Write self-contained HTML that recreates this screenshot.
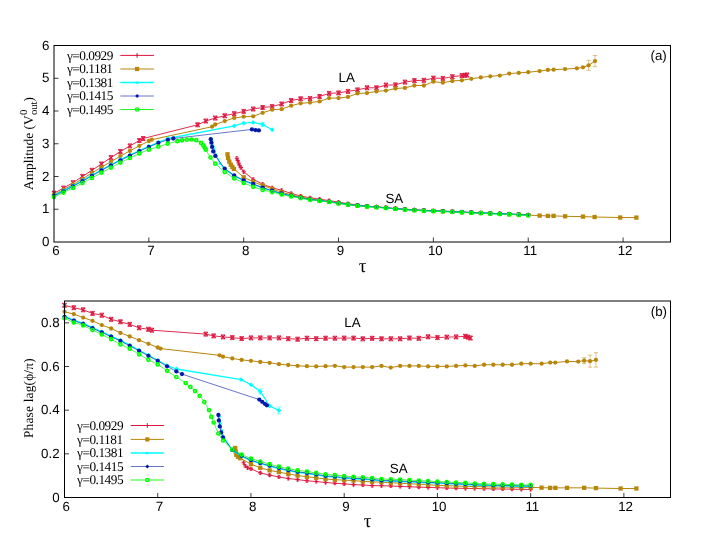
<!DOCTYPE html>
<html><head><meta charset="utf-8"><title>plot</title>
<style>html,body{margin:0;padding:0;background:#fff;}body{width:708px;height:545px;position:relative;overflow:hidden;font-family:"Liberation Sans",sans-serif;}</style></head>
<body>
<svg width="708" height="545" viewBox="0 0 708 545" style="position:absolute;left:0;top:0;text-rendering:geometricPrecision;will-change:transform">
<rect width="708" height="545" fill="#fff"/>
<g id="topdata">
<path d="M54.00 193.20L63.48 188.10L72.97 182.70L82.45 176.40L91.94 170.30L101.42 164.00L110.91 157.60L120.39 151.50L129.88 145.90L139.36 140.50L143.16 138.50L197.60 124.80L205.75 121.00L215.24 118.05L224.72 115.80L234.21 113.70L243.69 111.40L253.18 109.00L262.66 107.50L272.15 106.60L281.63 104.00L291.12 100.50L300.60 98.80L310.08 98.60L319.57 96.50L329.05 93.40L338.54 92.90L348.02 91.40L357.51 89.90L366.99 87.80L376.48 87.80L385.96 85.10L395.45 84.90L404.93 82.10L414.42 80.60L423.90 80.30L433.38 78.10L442.87 78.40L452.35 76.70L461.84 75.60L464.68 75.30L467.06 75.00" fill="none" stroke="#DC143C" stroke-width="0.9" stroke-opacity="1.0" stroke-linejoin="round"/>
<path d="M52.40 191.60L55.60 194.80M52.40 194.80L55.60 191.60" stroke="#DC143C" stroke-width="1.2" fill="none" stroke-linecap="square"/><path d="M52.00 191.20H56.00M52.00 195.20H56.00M54.00 191.20V195.20" stroke="#DC143C" stroke-width="0.8" fill="none"/>
<path d="M61.88 186.50L65.08 189.70M61.88 189.70L65.08 186.50" stroke="#DC143C" stroke-width="1.2" fill="none" stroke-linecap="square"/><path d="M61.48 186.10H65.48M61.48 190.10H65.48M63.48 186.10V190.10" stroke="#DC143C" stroke-width="0.8" fill="none"/>
<path d="M71.37 181.10L74.57 184.30M71.37 184.30L74.57 181.10" stroke="#DC143C" stroke-width="1.2" fill="none" stroke-linecap="square"/><path d="M70.97 180.70H74.97M70.97 184.70H74.97M72.97 180.70V184.70" stroke="#DC143C" stroke-width="0.8" fill="none"/>
<path d="M80.85 174.80L84.05 178.00M80.85 178.00L84.05 174.80" stroke="#DC143C" stroke-width="1.2" fill="none" stroke-linecap="square"/><path d="M80.45 174.40H84.45M80.45 178.40H84.45M82.45 174.40V178.40" stroke="#DC143C" stroke-width="0.8" fill="none"/>
<path d="M90.34 168.70L93.54 171.90M90.34 171.90L93.54 168.70" stroke="#DC143C" stroke-width="1.2" fill="none" stroke-linecap="square"/><path d="M89.94 168.30H93.94M89.94 172.30H93.94M91.94 168.30V172.30" stroke="#DC143C" stroke-width="0.8" fill="none"/>
<path d="M99.82 162.40L103.02 165.60M99.82 165.60L103.02 162.40" stroke="#DC143C" stroke-width="1.2" fill="none" stroke-linecap="square"/><path d="M99.42 162.00H103.42M99.42 166.00H103.42M101.42 162.00V166.00" stroke="#DC143C" stroke-width="0.8" fill="none"/>
<path d="M109.31 156.00L112.51 159.20M109.31 159.20L112.51 156.00" stroke="#DC143C" stroke-width="1.2" fill="none" stroke-linecap="square"/><path d="M108.91 155.60H112.91M108.91 159.60H112.91M110.91 155.60V159.60" stroke="#DC143C" stroke-width="0.8" fill="none"/>
<path d="M118.79 149.90L121.99 153.10M118.79 153.10L121.99 149.90" stroke="#DC143C" stroke-width="1.2" fill="none" stroke-linecap="square"/><path d="M118.39 149.50H122.39M118.39 153.50H122.39M120.39 149.50V153.50" stroke="#DC143C" stroke-width="0.8" fill="none"/>
<path d="M128.28 144.30L131.48 147.50M128.28 147.50L131.48 144.30" stroke="#DC143C" stroke-width="1.2" fill="none" stroke-linecap="square"/><path d="M127.88 143.90H131.88M127.88 147.90H131.88M129.88 143.90V147.90" stroke="#DC143C" stroke-width="0.8" fill="none"/>
<path d="M137.76 138.90L140.96 142.10M137.76 142.10L140.96 138.90" stroke="#DC143C" stroke-width="1.2" fill="none" stroke-linecap="square"/><path d="M137.36 138.50H141.36M137.36 142.50H141.36M139.36 138.50V142.50" stroke="#DC143C" stroke-width="0.8" fill="none"/>
<path d="M141.56 136.90L144.76 140.10M141.56 140.10L144.76 136.90" stroke="#DC143C" stroke-width="1.2" fill="none" stroke-linecap="square"/><path d="M141.16 136.50H145.16M141.16 140.50H145.16M143.16 136.50V140.50" stroke="#DC143C" stroke-width="0.8" fill="none"/>
<path d="M196.00 123.20L199.20 126.40M196.00 126.40L199.20 123.20" stroke="#DC143C" stroke-width="1.2" fill="none" stroke-linecap="square"/><path d="M195.60 122.80H199.60M195.60 126.80H199.60M197.60 122.80V126.80" stroke="#DC143C" stroke-width="0.8" fill="none"/>
<path d="M204.15 119.40L207.35 122.60M204.15 122.60L207.35 119.40" stroke="#DC143C" stroke-width="1.2" fill="none" stroke-linecap="square"/><path d="M203.75 119.00H207.75M203.75 123.00H207.75M205.75 119.00V123.00" stroke="#DC143C" stroke-width="0.8" fill="none"/>
<path d="M213.64 116.45L216.84 119.65M213.64 119.65L216.84 116.45" stroke="#DC143C" stroke-width="1.2" fill="none" stroke-linecap="square"/><path d="M213.24 116.05H217.24M213.24 120.05H217.24M215.24 116.05V120.05" stroke="#DC143C" stroke-width="0.8" fill="none"/>
<path d="M223.12 114.20L226.32 117.40M223.12 117.40L226.32 114.20" stroke="#DC143C" stroke-width="1.2" fill="none" stroke-linecap="square"/><path d="M222.72 113.80H226.72M222.72 117.80H226.72M224.72 113.80V117.80" stroke="#DC143C" stroke-width="0.8" fill="none"/>
<path d="M232.61 112.10L235.81 115.30M232.61 115.30L235.81 112.10" stroke="#DC143C" stroke-width="1.2" fill="none" stroke-linecap="square"/><path d="M232.21 111.70H236.21M232.21 115.70H236.21M234.21 111.70V115.70" stroke="#DC143C" stroke-width="0.8" fill="none"/>
<path d="M242.09 109.80L245.29 113.00M242.09 113.00L245.29 109.80" stroke="#DC143C" stroke-width="1.2" fill="none" stroke-linecap="square"/><path d="M241.69 109.40H245.69M241.69 113.40H245.69M243.69 109.40V113.40" stroke="#DC143C" stroke-width="0.8" fill="none"/>
<path d="M251.58 107.40L254.78 110.60M251.58 110.60L254.78 107.40" stroke="#DC143C" stroke-width="1.2" fill="none" stroke-linecap="square"/><path d="M251.18 107.00H255.18M251.18 111.00H255.18M253.18 107.00V111.00" stroke="#DC143C" stroke-width="0.8" fill="none"/>
<path d="M261.06 105.90L264.26 109.10M261.06 109.10L264.26 105.90" stroke="#DC143C" stroke-width="1.2" fill="none" stroke-linecap="square"/><path d="M260.66 105.50H264.66M260.66 109.50H264.66M262.66 105.50V109.50" stroke="#DC143C" stroke-width="0.8" fill="none"/>
<path d="M270.55 105.00L273.75 108.20M270.55 108.20L273.75 105.00" stroke="#DC143C" stroke-width="1.2" fill="none" stroke-linecap="square"/><path d="M270.15 104.60H274.15M270.15 108.60H274.15M272.15 104.60V108.60" stroke="#DC143C" stroke-width="0.8" fill="none"/>
<path d="M280.03 102.40L283.23 105.60M280.03 105.60L283.23 102.40" stroke="#DC143C" stroke-width="1.2" fill="none" stroke-linecap="square"/><path d="M279.63 102.00H283.63M279.63 106.00H283.63M281.63 102.00V106.00" stroke="#DC143C" stroke-width="0.8" fill="none"/>
<path d="M289.52 98.90L292.72 102.10M289.52 102.10L292.72 98.90" stroke="#DC143C" stroke-width="1.2" fill="none" stroke-linecap="square"/><path d="M289.12 98.50H293.12M289.12 102.50H293.12M291.12 98.50V102.50" stroke="#DC143C" stroke-width="0.8" fill="none"/>
<path d="M299.00 97.20L302.20 100.40M299.00 100.40L302.20 97.20" stroke="#DC143C" stroke-width="1.2" fill="none" stroke-linecap="square"/><path d="M298.60 96.80H302.60M298.60 100.80H302.60M300.60 96.80V100.80" stroke="#DC143C" stroke-width="0.8" fill="none"/>
<path d="M308.48 97.00L311.68 100.20M308.48 100.20L311.68 97.00" stroke="#DC143C" stroke-width="1.2" fill="none" stroke-linecap="square"/><path d="M308.08 96.60H312.08M308.08 100.60H312.08M310.08 96.60V100.60" stroke="#DC143C" stroke-width="0.8" fill="none"/>
<path d="M317.97 94.90L321.17 98.10M317.97 98.10L321.17 94.90" stroke="#DC143C" stroke-width="1.2" fill="none" stroke-linecap="square"/><path d="M317.57 94.50H321.57M317.57 98.50H321.57M319.57 94.50V98.50" stroke="#DC143C" stroke-width="0.8" fill="none"/>
<path d="M327.45 91.80L330.65 95.00M327.45 95.00L330.65 91.80" stroke="#DC143C" stroke-width="1.2" fill="none" stroke-linecap="square"/><path d="M327.05 91.40H331.05M327.05 95.40H331.05M329.05 91.40V95.40" stroke="#DC143C" stroke-width="0.8" fill="none"/>
<path d="M336.94 91.30L340.14 94.50M336.94 94.50L340.14 91.30" stroke="#DC143C" stroke-width="1.2" fill="none" stroke-linecap="square"/><path d="M336.54 90.90H340.54M336.54 94.90H340.54M338.54 90.90V94.90" stroke="#DC143C" stroke-width="0.8" fill="none"/>
<path d="M346.42 89.80L349.62 93.00M346.42 93.00L349.62 89.80" stroke="#DC143C" stroke-width="1.2" fill="none" stroke-linecap="square"/><path d="M346.02 89.40H350.02M346.02 93.40H350.02M348.02 89.40V93.40" stroke="#DC143C" stroke-width="0.8" fill="none"/>
<path d="M355.91 88.30L359.11 91.50M355.91 91.50L359.11 88.30" stroke="#DC143C" stroke-width="1.2" fill="none" stroke-linecap="square"/><path d="M355.51 87.90H359.51M355.51 91.90H359.51M357.51 87.90V91.90" stroke="#DC143C" stroke-width="0.8" fill="none"/>
<path d="M365.39 86.20L368.59 89.40M365.39 89.40L368.59 86.20" stroke="#DC143C" stroke-width="1.2" fill="none" stroke-linecap="square"/><path d="M364.99 85.80H368.99M364.99 89.80H368.99M366.99 85.80V89.80" stroke="#DC143C" stroke-width="0.8" fill="none"/>
<path d="M374.88 86.20L378.08 89.40M374.88 89.40L378.08 86.20" stroke="#DC143C" stroke-width="1.2" fill="none" stroke-linecap="square"/><path d="M374.48 85.80H378.48M374.48 89.80H378.48M376.48 85.80V89.80" stroke="#DC143C" stroke-width="0.8" fill="none"/>
<path d="M384.36 83.50L387.56 86.70M384.36 86.70L387.56 83.50" stroke="#DC143C" stroke-width="1.2" fill="none" stroke-linecap="square"/><path d="M383.96 83.10H387.96M383.96 87.10H387.96M385.96 83.10V87.10" stroke="#DC143C" stroke-width="0.8" fill="none"/>
<path d="M393.85 83.30L397.05 86.50M393.85 86.50L397.05 83.30" stroke="#DC143C" stroke-width="1.2" fill="none" stroke-linecap="square"/><path d="M393.45 82.90H397.45M393.45 86.90H397.45M395.45 82.90V86.90" stroke="#DC143C" stroke-width="0.8" fill="none"/>
<path d="M403.33 80.50L406.53 83.70M403.33 83.70L406.53 80.50" stroke="#DC143C" stroke-width="1.2" fill="none" stroke-linecap="square"/><path d="M402.93 80.10H406.93M402.93 84.10H406.93M404.93 80.10V84.10" stroke="#DC143C" stroke-width="0.8" fill="none"/>
<path d="M412.82 79.00L416.02 82.20M412.82 82.20L416.02 79.00" stroke="#DC143C" stroke-width="1.2" fill="none" stroke-linecap="square"/><path d="M412.42 78.60H416.42M412.42 82.60H416.42M414.42 78.60V82.60" stroke="#DC143C" stroke-width="0.8" fill="none"/>
<path d="M422.30 78.70L425.50 81.90M422.30 81.90L425.50 78.70" stroke="#DC143C" stroke-width="1.2" fill="none" stroke-linecap="square"/><path d="M421.90 78.30H425.90M421.90 82.30H425.90M423.90 78.30V82.30" stroke="#DC143C" stroke-width="0.8" fill="none"/>
<path d="M431.78 76.50L434.98 79.70M431.78 79.70L434.98 76.50" stroke="#DC143C" stroke-width="1.2" fill="none" stroke-linecap="square"/><path d="M431.38 76.10H435.38M431.38 80.10H435.38M433.38 76.10V80.10" stroke="#DC143C" stroke-width="0.8" fill="none"/>
<path d="M441.27 76.80L444.47 80.00M441.27 80.00L444.47 76.80" stroke="#DC143C" stroke-width="1.2" fill="none" stroke-linecap="square"/><path d="M440.87 76.40H444.87M440.87 80.40H444.87M442.87 76.40V80.40" stroke="#DC143C" stroke-width="0.8" fill="none"/>
<path d="M450.75 75.10L453.95 78.30M450.75 78.30L453.95 75.10" stroke="#DC143C" stroke-width="1.2" fill="none" stroke-linecap="square"/><path d="M450.35 74.70H454.35M450.35 78.70H454.35M452.35 74.70V78.70" stroke="#DC143C" stroke-width="0.8" fill="none"/>
<path d="M460.24 74.00L463.44 77.20M460.24 77.20L463.44 74.00" stroke="#DC143C" stroke-width="1.2" fill="none" stroke-linecap="square"/><path d="M459.84 73.60H463.84M459.84 77.60H463.84M461.84 73.60V77.60" stroke="#DC143C" stroke-width="0.8" fill="none"/>
<path d="M463.08 73.70L466.28 76.90M463.08 76.90L466.28 73.70" stroke="#DC143C" stroke-width="1.2" fill="none" stroke-linecap="square"/><path d="M462.68 73.30H466.68M462.68 77.30H466.68M464.68 73.30V77.30" stroke="#DC143C" stroke-width="0.8" fill="none"/>
<path d="M465.45 73.40L468.66 76.60M465.45 76.60L468.66 73.40" stroke="#DC143C" stroke-width="1.2" fill="none" stroke-linecap="square"/><path d="M465.06 73.00H469.06M465.06 77.00H469.06M467.06 73.00V77.00" stroke="#DC143C" stroke-width="0.8" fill="none"/>
<path d="M236.80 158.20L237.70 160.50L238.60 163.00L239.60 165.30L240.90 167.60L243.69 171.80L253.18 179.30L262.66 184.20L272.15 187.80L281.63 190.30L291.12 193.40L300.60 196.00L310.08 197.80L319.57 199.20L329.05 200.60L338.54 202.20L348.02 203.70L357.51 205.00L366.99 206.20L376.48 206.90L385.96 207.70L395.45 208.60L404.93 209.30L414.42 209.90L423.90 210.40L433.38 210.80L442.87 211.10L452.35 211.60L461.84 212.00L471.32 212.50L480.81 212.80L490.29 213.30L499.78 213.70L509.26 214.00L518.75 214.50L528.23 214.90" fill="none" stroke="#DC143C" stroke-width="0.9" stroke-opacity="1.0" stroke-linejoin="round"/>
<path d="M234.70 158.20H238.90M236.80 156.10V160.30" stroke="#DC143C" stroke-width="1.1" fill="none"/><path d="M235.40 156.80H238.20M235.40 159.60H238.20" stroke="#DC143C" stroke-width="0.8" stroke-opacity="0.8" fill="none"/>
<path d="M235.60 160.50H239.80M237.70 158.40V162.60" stroke="#DC143C" stroke-width="1.1" fill="none"/><path d="M236.30 159.10H239.10M236.30 161.90H239.10" stroke="#DC143C" stroke-width="0.8" stroke-opacity="0.8" fill="none"/>
<path d="M236.50 163.00H240.70M238.60 160.90V165.10" stroke="#DC143C" stroke-width="1.1" fill="none"/><path d="M237.20 161.60H240.00M237.20 164.40H240.00" stroke="#DC143C" stroke-width="0.8" stroke-opacity="0.8" fill="none"/>
<path d="M237.50 165.30H241.70M239.60 163.20V167.40" stroke="#DC143C" stroke-width="1.1" fill="none"/><path d="M238.20 163.90H241.00M238.20 166.70H241.00" stroke="#DC143C" stroke-width="0.8" stroke-opacity="0.8" fill="none"/>
<path d="M238.80 167.60H243.00M240.90 165.50V169.70" stroke="#DC143C" stroke-width="1.1" fill="none"/><path d="M239.50 166.20H242.30M239.50 169.00H242.30" stroke="#DC143C" stroke-width="0.8" stroke-opacity="0.8" fill="none"/>
<path d="M241.59 171.80H245.79M243.69 169.70V173.90" stroke="#DC143C" stroke-width="1.1" fill="none"/><path d="M242.29 170.40H245.09M242.29 173.20H245.09" stroke="#DC143C" stroke-width="0.8" stroke-opacity="0.8" fill="none"/>
<path d="M251.08 179.30H255.28M253.18 177.20V181.40" stroke="#DC143C" stroke-width="1.1" fill="none"/><path d="M251.78 177.90H254.58M251.78 180.70H254.58" stroke="#DC143C" stroke-width="0.8" stroke-opacity="0.8" fill="none"/>
<path d="M260.56 184.20H264.76M262.66 182.10V186.30" stroke="#DC143C" stroke-width="1.1" fill="none"/><path d="M261.26 182.80H264.06M261.26 185.60H264.06" stroke="#DC143C" stroke-width="0.8" stroke-opacity="0.8" fill="none"/>
<path d="M270.05 187.80H274.25M272.15 185.70V189.90" stroke="#DC143C" stroke-width="1.1" fill="none"/><path d="M270.75 186.40H273.55M270.75 189.20H273.55" stroke="#DC143C" stroke-width="0.8" stroke-opacity="0.8" fill="none"/>
<path d="M279.53 190.30H283.73M281.63 188.20V192.40" stroke="#DC143C" stroke-width="1.1" fill="none"/><path d="M280.23 188.90H283.03M280.23 191.70H283.03" stroke="#DC143C" stroke-width="0.8" stroke-opacity="0.8" fill="none"/>
<path d="M289.02 193.40H293.22M291.12 191.30V195.50" stroke="#DC143C" stroke-width="1.1" fill="none"/><path d="M289.72 192.00H292.52M289.72 194.80H292.52" stroke="#DC143C" stroke-width="0.8" stroke-opacity="0.8" fill="none"/>
<path d="M298.50 196.00H302.70M300.60 193.90V198.10" stroke="#DC143C" stroke-width="1.1" fill="none"/><path d="M299.20 194.60H302.00M299.20 197.40H302.00" stroke="#DC143C" stroke-width="0.8" stroke-opacity="0.8" fill="none"/>
<path d="M307.98 197.80H312.18M310.08 195.70V199.90" stroke="#DC143C" stroke-width="1.1" fill="none"/><path d="M308.68 196.40H311.48M308.68 199.20H311.48" stroke="#DC143C" stroke-width="0.8" stroke-opacity="0.8" fill="none"/>
<path d="M317.47 199.20H321.67M319.57 197.10V201.30" stroke="#DC143C" stroke-width="1.1" fill="none"/><path d="M318.17 197.80H320.97M318.17 200.60H320.97" stroke="#DC143C" stroke-width="0.8" stroke-opacity="0.8" fill="none"/>
<path d="M326.95 200.60H331.15M329.05 198.50V202.70" stroke="#DC143C" stroke-width="1.1" fill="none"/><path d="M327.65 199.20H330.45M327.65 202.00H330.45" stroke="#DC143C" stroke-width="0.8" stroke-opacity="0.8" fill="none"/>
<path d="M336.44 202.20H340.64M338.54 200.10V204.30" stroke="#DC143C" stroke-width="1.1" fill="none"/><path d="M337.14 200.80H339.94M337.14 203.60H339.94" stroke="#DC143C" stroke-width="0.8" stroke-opacity="0.8" fill="none"/>
<path d="M345.92 203.70H350.12M348.02 201.60V205.80" stroke="#DC143C" stroke-width="1.1" fill="none"/><path d="M346.62 202.30H349.42M346.62 205.10H349.42" stroke="#DC143C" stroke-width="0.8" stroke-opacity="0.8" fill="none"/>
<path d="M355.41 205.00H359.61M357.51 202.90V207.10" stroke="#DC143C" stroke-width="1.1" fill="none"/><path d="M356.11 203.60H358.91M356.11 206.40H358.91" stroke="#DC143C" stroke-width="0.8" stroke-opacity="0.8" fill="none"/>
<path d="M364.89 206.20H369.09M366.99 204.10V208.30" stroke="#DC143C" stroke-width="1.1" fill="none"/><path d="M365.59 204.80H368.39M365.59 207.60H368.39" stroke="#DC143C" stroke-width="0.8" stroke-opacity="0.8" fill="none"/>
<path d="M374.38 206.90H378.58M376.48 204.80V209.00" stroke="#DC143C" stroke-width="1.1" fill="none"/><path d="M375.08 205.50H377.88M375.08 208.30H377.88" stroke="#DC143C" stroke-width="0.8" stroke-opacity="0.8" fill="none"/>
<path d="M383.86 207.70H388.06M385.96 205.60V209.80" stroke="#DC143C" stroke-width="1.1" fill="none"/><path d="M384.56 206.30H387.36M384.56 209.10H387.36" stroke="#DC143C" stroke-width="0.8" stroke-opacity="0.8" fill="none"/>
<path d="M393.35 208.60H397.55M395.45 206.50V210.70" stroke="#DC143C" stroke-width="1.1" fill="none"/><path d="M394.05 207.20H396.85M394.05 210.00H396.85" stroke="#DC143C" stroke-width="0.8" stroke-opacity="0.8" fill="none"/>
<path d="M402.83 209.30H407.03M404.93 207.20V211.40" stroke="#DC143C" stroke-width="1.1" fill="none"/><path d="M403.53 207.90H406.33M403.53 210.70H406.33" stroke="#DC143C" stroke-width="0.8" stroke-opacity="0.8" fill="none"/>
<path d="M412.32 209.90H416.52M414.42 207.80V212.00" stroke="#DC143C" stroke-width="1.1" fill="none"/><path d="M413.02 208.50H415.82M413.02 211.30H415.82" stroke="#DC143C" stroke-width="0.8" stroke-opacity="0.8" fill="none"/>
<path d="M421.80 210.40H426.00M423.90 208.30V212.50" stroke="#DC143C" stroke-width="1.1" fill="none"/><path d="M422.50 209.00H425.30M422.50 211.80H425.30" stroke="#DC143C" stroke-width="0.8" stroke-opacity="0.8" fill="none"/>
<path d="M431.28 210.80H435.48M433.38 208.70V212.90" stroke="#DC143C" stroke-width="1.1" fill="none"/><path d="M431.98 209.40H434.78M431.98 212.20H434.78" stroke="#DC143C" stroke-width="0.8" stroke-opacity="0.8" fill="none"/>
<path d="M440.77 211.10H444.97M442.87 209.00V213.20" stroke="#DC143C" stroke-width="1.1" fill="none"/><path d="M441.47 209.70H444.27M441.47 212.50H444.27" stroke="#DC143C" stroke-width="0.8" stroke-opacity="0.8" fill="none"/>
<path d="M450.25 211.60H454.45M452.35 209.50V213.70" stroke="#DC143C" stroke-width="1.1" fill="none"/><path d="M450.95 210.20H453.75M450.95 213.00H453.75" stroke="#DC143C" stroke-width="0.8" stroke-opacity="0.8" fill="none"/>
<path d="M459.74 212.00H463.94M461.84 209.90V214.10" stroke="#DC143C" stroke-width="1.1" fill="none"/><path d="M460.44 210.60H463.24M460.44 213.40H463.24" stroke="#DC143C" stroke-width="0.8" stroke-opacity="0.8" fill="none"/>
<path d="M469.22 212.50H473.42M471.32 210.40V214.60" stroke="#DC143C" stroke-width="1.1" fill="none"/><path d="M469.92 211.10H472.72M469.92 213.90H472.72" stroke="#DC143C" stroke-width="0.8" stroke-opacity="0.8" fill="none"/>
<path d="M478.71 212.80H482.91M480.81 210.70V214.90" stroke="#DC143C" stroke-width="1.1" fill="none"/><path d="M479.41 211.40H482.21M479.41 214.20H482.21" stroke="#DC143C" stroke-width="0.8" stroke-opacity="0.8" fill="none"/>
<path d="M488.19 213.30H492.39M490.29 211.20V215.40" stroke="#DC143C" stroke-width="1.1" fill="none"/><path d="M488.89 211.90H491.69M488.89 214.70H491.69" stroke="#DC143C" stroke-width="0.8" stroke-opacity="0.8" fill="none"/>
<path d="M497.68 213.70H501.88M499.78 211.60V215.80" stroke="#DC143C" stroke-width="1.1" fill="none"/><path d="M498.38 212.30H501.18M498.38 215.10H501.18" stroke="#DC143C" stroke-width="0.8" stroke-opacity="0.8" fill="none"/>
<path d="M507.16 214.00H511.36M509.26 211.90V216.10" stroke="#DC143C" stroke-width="1.1" fill="none"/><path d="M507.86 212.60H510.66M507.86 215.40H510.66" stroke="#DC143C" stroke-width="0.8" stroke-opacity="0.8" fill="none"/>
<path d="M516.65 214.50H520.85M518.75 212.40V216.60" stroke="#DC143C" stroke-width="1.1" fill="none"/><path d="M517.35 213.10H520.15M517.35 215.90H520.15" stroke="#DC143C" stroke-width="0.8" stroke-opacity="0.8" fill="none"/>
<path d="M526.13 214.90H530.33M528.23 212.80V217.00" stroke="#DC143C" stroke-width="1.1" fill="none"/><path d="M526.83 213.50H529.63M526.83 216.30H529.63" stroke="#DC143C" stroke-width="0.8" stroke-opacity="0.8" fill="none"/>
<path d="M54.00 194.60L63.48 189.70L72.97 184.50L82.45 178.80L91.94 173.00L101.42 167.20L110.91 161.70L120.39 156.10L129.88 150.90L139.36 145.80L148.85 141.00L151.69 139.70L212.11 126.70L215.24 124.50L224.72 121.10L234.21 117.90L243.69 116.70L253.18 116.30L262.66 112.80L272.15 109.70L281.63 109.20L291.12 105.70L300.60 103.30L310.08 102.60L319.57 101.40L329.05 98.10L338.54 98.10L348.02 96.90L357.51 93.40L366.99 93.10L376.48 91.40L385.96 90.60L395.45 88.50L404.93 87.90L414.42 85.50L423.90 85.50L433.38 81.70L442.87 82.70L452.35 81.00L461.84 80.30L471.32 78.80L480.81 77.40L490.29 76.30L499.78 75.60L509.26 73.60L518.75 72.90L528.23 72.20L539.61 71.10L547.86 69.90L553.65 69.70L565.03 69.10L576.89 68.30L582.96 67.35L588.65 65.30L595.00 61.10" fill="none" stroke="#B8860B" stroke-width="1.0" stroke-opacity="1.0" stroke-linejoin="round"/>
<circle cx="54.00" cy="194.60" r="2.15" fill="#B8860B"/>
<circle cx="63.48" cy="189.70" r="2.15" fill="#B8860B"/>
<circle cx="72.97" cy="184.50" r="2.15" fill="#B8860B"/>
<circle cx="82.45" cy="178.80" r="2.15" fill="#B8860B"/>
<circle cx="91.94" cy="173.00" r="2.15" fill="#B8860B"/>
<circle cx="101.42" cy="167.20" r="2.15" fill="#B8860B"/>
<circle cx="110.91" cy="161.70" r="2.15" fill="#B8860B"/>
<circle cx="120.39" cy="156.10" r="2.15" fill="#B8860B"/>
<circle cx="129.88" cy="150.90" r="2.15" fill="#B8860B"/>
<circle cx="139.36" cy="145.80" r="2.15" fill="#B8860B"/>
<circle cx="148.85" cy="141.00" r="2.15" fill="#B8860B"/>
<circle cx="151.69" cy="139.70" r="2.15" fill="#B8860B"/>
<circle cx="212.11" cy="126.70" r="2.15" fill="#B8860B"/>
<circle cx="215.24" cy="124.50" r="2.15" fill="#B8860B"/>
<circle cx="224.72" cy="121.10" r="2.15" fill="#B8860B"/>
<circle cx="234.21" cy="117.90" r="2.15" fill="#B8860B"/>
<circle cx="243.69" cy="116.70" r="2.15" fill="#B8860B"/>
<circle cx="253.18" cy="116.30" r="2.15" fill="#B8860B"/>
<circle cx="262.66" cy="112.80" r="2.15" fill="#B8860B"/>
<circle cx="272.15" cy="109.70" r="2.15" fill="#B8860B"/>
<circle cx="281.63" cy="109.20" r="2.15" fill="#B8860B"/>
<circle cx="291.12" cy="105.70" r="2.15" fill="#B8860B"/>
<circle cx="300.60" cy="103.30" r="2.15" fill="#B8860B"/>
<circle cx="310.08" cy="102.60" r="2.15" fill="#B8860B"/>
<circle cx="319.57" cy="101.40" r="2.15" fill="#B8860B"/>
<circle cx="329.05" cy="98.10" r="2.15" fill="#B8860B"/>
<circle cx="338.54" cy="98.10" r="2.15" fill="#B8860B"/>
<circle cx="348.02" cy="96.90" r="2.15" fill="#B8860B"/>
<circle cx="357.51" cy="93.40" r="2.15" fill="#B8860B"/>
<circle cx="366.99" cy="93.10" r="2.15" fill="#B8860B"/>
<circle cx="376.48" cy="91.40" r="2.15" fill="#B8860B"/>
<circle cx="385.96" cy="90.60" r="2.15" fill="#B8860B"/>
<circle cx="395.45" cy="88.50" r="2.15" fill="#B8860B"/>
<circle cx="404.93" cy="87.90" r="2.15" fill="#B8860B"/>
<circle cx="414.42" cy="85.50" r="2.15" fill="#B8860B"/>
<circle cx="423.90" cy="85.50" r="2.15" fill="#B8860B"/>
<circle cx="433.38" cy="81.70" r="2.15" fill="#B8860B"/>
<circle cx="442.87" cy="82.70" r="2.15" fill="#B8860B"/>
<circle cx="452.35" cy="81.00" r="2.15" fill="#B8860B"/>
<circle cx="461.84" cy="80.30" r="2.15" fill="#B8860B"/>
<circle cx="471.32" cy="78.80" r="2.15" fill="#B8860B"/>
<circle cx="480.81" cy="77.40" r="2.15" fill="#B8860B"/>
<circle cx="490.29" cy="76.30" r="2.15" fill="#B8860B"/>
<circle cx="499.78" cy="75.60" r="2.15" fill="#B8860B"/>
<circle cx="509.26" cy="73.60" r="2.15" fill="#B8860B"/>
<circle cx="518.75" cy="72.90" r="2.15" fill="#B8860B"/>
<circle cx="528.23" cy="72.20" r="2.15" fill="#B8860B"/>
<circle cx="539.61" cy="71.10" r="2.15" fill="#B8860B"/>
<circle cx="547.86" cy="69.90" r="2.15" fill="#B8860B"/>
<circle cx="553.65" cy="69.70" r="2.15" fill="#B8860B"/>
<circle cx="565.03" cy="69.10" r="2.15" fill="#B8860B"/>
<circle cx="576.89" cy="68.30" r="2.15" fill="#B8860B"/>
<circle cx="582.96" cy="67.35" r="2.15" fill="#B8860B"/>
<path d="M588.65 60.30V70.30M586.45 60.30H590.85M586.45 70.30H590.85" stroke="#B8860B" stroke-width="0.8" fill="none" stroke-opacity="0.6"/>
<circle cx="588.65" cy="65.30" r="2.15" fill="#B8860B"/>
<path d="M595.00 55.50V66.70M592.80 55.50H597.20M592.80 66.70H597.20" stroke="#B8860B" stroke-width="0.8" fill="none" stroke-opacity="0.6"/>
<circle cx="595.00" cy="61.10" r="2.15" fill="#B8860B"/>
<path d="M227.50 154.30L228.10 158.00L229.30 161.60L230.80 164.70L232.40 167.00L234.00 168.90L243.69 177.30L253.18 181.80L262.66 185.40L272.15 188.90L281.63 192.30L291.12 194.80L300.60 197.00L310.08 199.00L319.57 200.40L329.05 201.80L338.54 203.20L348.02 204.50L357.51 205.60L366.99 206.40L376.48 207.10L385.96 207.90L395.45 208.80L404.93 209.50L414.42 210.10L423.90 210.60L433.38 211.00L442.87 211.30L452.35 211.80L461.84 212.20L471.32 212.70L480.81 213.00L490.29 213.50L499.78 213.90L509.26 214.20L518.75 214.70L528.23 215.10L539.61 215.60L547.86 215.90L553.55 215.90L565.13 216.30L582.96 216.60L594.62 217.00L620.23 217.50L636.36 217.60" fill="none" stroke="#B8860B" stroke-width="1.0" stroke-opacity="1.0" stroke-linejoin="round"/>
<rect x="225.35" y="152.15" width="4.30" height="4.30" fill="#B8860B"/>
<rect x="225.95" y="155.85" width="4.30" height="4.30" fill="#B8860B"/>
<rect x="227.15" y="159.45" width="4.30" height="4.30" fill="#B8860B"/>
<rect x="228.65" y="162.55" width="4.30" height="4.30" fill="#B8860B"/>
<rect x="230.25" y="164.85" width="4.30" height="4.30" fill="#B8860B"/>
<rect x="231.85" y="166.75" width="4.30" height="4.30" fill="#B8860B"/>
<rect x="241.54" y="175.15" width="4.30" height="4.30" fill="#B8860B"/>
<rect x="251.03" y="179.65" width="4.30" height="4.30" fill="#B8860B"/>
<rect x="260.51" y="183.25" width="4.30" height="4.30" fill="#B8860B"/>
<rect x="270.00" y="186.75" width="4.30" height="4.30" fill="#B8860B"/>
<rect x="279.48" y="190.15" width="4.30" height="4.30" fill="#B8860B"/>
<rect x="288.97" y="192.65" width="4.30" height="4.30" fill="#B8860B"/>
<rect x="298.45" y="194.85" width="4.30" height="4.30" fill="#B8860B"/>
<rect x="307.93" y="196.85" width="4.30" height="4.30" fill="#B8860B"/>
<rect x="317.42" y="198.25" width="4.30" height="4.30" fill="#B8860B"/>
<rect x="326.90" y="199.65" width="4.30" height="4.30" fill="#B8860B"/>
<rect x="336.39" y="201.05" width="4.30" height="4.30" fill="#B8860B"/>
<rect x="345.87" y="202.35" width="4.30" height="4.30" fill="#B8860B"/>
<rect x="355.36" y="203.45" width="4.30" height="4.30" fill="#B8860B"/>
<rect x="364.84" y="204.25" width="4.30" height="4.30" fill="#B8860B"/>
<rect x="374.33" y="204.95" width="4.30" height="4.30" fill="#B8860B"/>
<rect x="383.81" y="205.75" width="4.30" height="4.30" fill="#B8860B"/>
<rect x="393.30" y="206.65" width="4.30" height="4.30" fill="#B8860B"/>
<rect x="402.78" y="207.35" width="4.30" height="4.30" fill="#B8860B"/>
<rect x="412.27" y="207.95" width="4.30" height="4.30" fill="#B8860B"/>
<rect x="421.75" y="208.45" width="4.30" height="4.30" fill="#B8860B"/>
<rect x="431.23" y="208.85" width="4.30" height="4.30" fill="#B8860B"/>
<rect x="440.72" y="209.15" width="4.30" height="4.30" fill="#B8860B"/>
<rect x="450.20" y="209.65" width="4.30" height="4.30" fill="#B8860B"/>
<rect x="459.69" y="210.05" width="4.30" height="4.30" fill="#B8860B"/>
<rect x="469.17" y="210.55" width="4.30" height="4.30" fill="#B8860B"/>
<rect x="478.66" y="210.85" width="4.30" height="4.30" fill="#B8860B"/>
<rect x="488.14" y="211.35" width="4.30" height="4.30" fill="#B8860B"/>
<rect x="497.63" y="211.75" width="4.30" height="4.30" fill="#B8860B"/>
<rect x="507.11" y="212.05" width="4.30" height="4.30" fill="#B8860B"/>
<rect x="516.60" y="212.55" width="4.30" height="4.30" fill="#B8860B"/>
<rect x="526.08" y="212.95" width="4.30" height="4.30" fill="#B8860B"/>
<rect x="537.46" y="213.45" width="4.30" height="4.30" fill="#B8860B"/>
<rect x="545.71" y="213.75" width="4.30" height="4.30" fill="#B8860B"/>
<rect x="551.40" y="213.75" width="4.30" height="4.30" fill="#B8860B"/>
<rect x="562.98" y="214.15" width="4.30" height="4.30" fill="#B8860B"/>
<rect x="580.81" y="214.45" width="4.30" height="4.30" fill="#B8860B"/>
<rect x="592.47" y="214.85" width="4.30" height="4.30" fill="#B8860B"/>
<rect x="618.08" y="215.35" width="4.30" height="4.30" fill="#B8860B"/>
<rect x="634.21" y="215.45" width="4.30" height="4.30" fill="#B8860B"/>
<path d="M54.00 195.30L63.48 190.70L72.97 185.80L82.45 180.60L91.94 175.20L101.42 169.80L110.91 164.70L120.39 159.70L129.88 155.10L139.36 150.50L148.85 146.40L158.33 142.30L167.82 138.50L234.21 125.90L243.69 123.10L253.18 122.40L262.66 124.50L272.15 129.70" fill="none" stroke="#00FFFF" stroke-width="1.3" stroke-opacity="1.0" stroke-linejoin="round"/>
<path d="M54.00 192.90L56.40 195.30L54.00 197.70L51.60 195.30Z" fill="#00FFFF"/>
<path d="M63.48 188.30L65.88 190.70L63.48 193.10L61.08 190.70Z" fill="#00FFFF"/>
<path d="M72.97 183.40L75.37 185.80L72.97 188.20L70.57 185.80Z" fill="#00FFFF"/>
<path d="M82.45 178.20L84.85 180.60L82.45 183.00L80.05 180.60Z" fill="#00FFFF"/>
<path d="M91.94 172.80L94.34 175.20L91.94 177.60L89.54 175.20Z" fill="#00FFFF"/>
<path d="M101.42 167.40L103.82 169.80L101.42 172.20L99.02 169.80Z" fill="#00FFFF"/>
<path d="M110.91 162.30L113.31 164.70L110.91 167.10L108.51 164.70Z" fill="#00FFFF"/>
<path d="M120.39 157.30L122.79 159.70L120.39 162.10L117.99 159.70Z" fill="#00FFFF"/>
<path d="M129.88 152.70L132.28 155.10L129.88 157.50L127.48 155.10Z" fill="#00FFFF"/>
<path d="M139.36 148.10L141.76 150.50L139.36 152.90L136.96 150.50Z" fill="#00FFFF"/>
<path d="M148.85 144.00L151.25 146.40L148.85 148.80L146.45 146.40Z" fill="#00FFFF"/>
<path d="M158.33 139.90L160.73 142.30L158.33 144.70L155.93 142.30Z" fill="#00FFFF"/>
<path d="M167.82 136.10L170.22 138.50L167.82 140.90L165.42 138.50Z" fill="#00FFFF"/>
<path d="M234.21 123.50L236.61 125.90L234.21 128.30L231.81 125.90Z" fill="#00FFFF"/>
<path d="M243.69 120.70L246.09 123.10L243.69 125.50L241.29 123.10Z" fill="#00FFFF"/>
<path d="M253.18 120.00L255.58 122.40L253.18 124.80L250.78 122.40Z" fill="#00FFFF"/>
<path d="M262.66 122.30V126.70M260.46 122.30H264.86M260.46 126.70H264.86" stroke="#00FFFF" stroke-width="0.8" fill="none" stroke-opacity="0.6"/>
<path d="M262.66 122.10L265.06 124.50L262.66 126.90L260.26 124.50Z" fill="#00FFFF"/>
<path d="M272.15 127.30L274.55 129.70L272.15 132.10L269.75 129.70Z" fill="#00FFFF"/>
<path d="M211.90 140.00L213.00 145.30L214.50 150.00L216.20 155.00L220.10 163.40L224.72 169.00L234.21 175.90L243.69 180.70L253.18 184.30L262.66 187.90L272.15 191.00L281.63 193.70L291.12 195.90L300.60 197.90L310.08 199.60L319.57 200.70L329.05 201.80L338.54 203.20L348.02 204.50L357.51 205.60L366.99 206.40L376.48 207.10L385.96 207.90L395.45 208.80L404.93 209.50L414.42 210.10L423.90 210.60L433.38 211.00L442.87 211.30L452.35 211.80L461.84 212.20L471.32 212.70L480.81 213.00L490.29 213.50L499.78 213.90L509.26 214.20L518.75 214.70L528.23 215.10" fill="none" stroke="#00FFFF" stroke-width="1.3" stroke-opacity="1.0" stroke-linejoin="round"/>
<path d="M211.90 138.10L213.80 141.33H210.00Z" fill="#00FFFF"/>
<path d="M213.00 143.40L214.90 146.63H211.10Z" fill="#00FFFF"/>
<path d="M214.50 148.10L216.40 151.33H212.60Z" fill="#00FFFF"/>
<path d="M216.20 153.10L218.10 156.33H214.30Z" fill="#00FFFF"/>
<path d="M220.10 161.50L222.00 164.73H218.20Z" fill="#00FFFF"/>
<path d="M224.72 167.10L226.62 170.33H222.82Z" fill="#00FFFF"/>
<path d="M234.21 174.00L236.11 177.23H232.31Z" fill="#00FFFF"/>
<path d="M243.69 178.80L245.59 182.03H241.79Z" fill="#00FFFF"/>
<path d="M253.18 182.40L255.08 185.63H251.28Z" fill="#00FFFF"/>
<path d="M262.66 186.00L264.56 189.23H260.76Z" fill="#00FFFF"/>
<path d="M272.15 189.10L274.05 192.33H270.25Z" fill="#00FFFF"/>
<path d="M281.63 191.80L283.53 195.03H279.73Z" fill="#00FFFF"/>
<path d="M291.12 194.00L293.02 197.23H289.22Z" fill="#00FFFF"/>
<path d="M300.60 196.00L302.50 199.23H298.70Z" fill="#00FFFF"/>
<path d="M310.08 197.70L311.98 200.93H308.18Z" fill="#00FFFF"/>
<path d="M319.57 198.80L321.47 202.03H317.67Z" fill="#00FFFF"/>
<path d="M329.05 199.90L330.95 203.13H327.15Z" fill="#00FFFF"/>
<path d="M338.54 201.30L340.44 204.53H336.64Z" fill="#00FFFF"/>
<path d="M348.02 202.60L349.92 205.83H346.12Z" fill="#00FFFF"/>
<path d="M357.51 203.70L359.41 206.93H355.61Z" fill="#00FFFF"/>
<path d="M366.99 204.50L368.89 207.73H365.09Z" fill="#00FFFF"/>
<path d="M376.48 205.20L378.38 208.43H374.58Z" fill="#00FFFF"/>
<path d="M385.96 206.00L387.86 209.23H384.06Z" fill="#00FFFF"/>
<path d="M395.45 206.90L397.35 210.13H393.55Z" fill="#00FFFF"/>
<path d="M404.93 207.60L406.83 210.83H403.03Z" fill="#00FFFF"/>
<path d="M414.42 208.20L416.32 211.43H412.52Z" fill="#00FFFF"/>
<path d="M423.90 208.70L425.80 211.93H422.00Z" fill="#00FFFF"/>
<path d="M433.38 209.10L435.28 212.33H431.48Z" fill="#00FFFF"/>
<path d="M442.87 209.40L444.77 212.63H440.97Z" fill="#00FFFF"/>
<path d="M452.35 209.90L454.25 213.13H450.45Z" fill="#00FFFF"/>
<path d="M461.84 210.30L463.74 213.53H459.94Z" fill="#00FFFF"/>
<path d="M471.32 210.80L473.22 214.03H469.42Z" fill="#00FFFF"/>
<path d="M480.81 211.10L482.71 214.33H478.91Z" fill="#00FFFF"/>
<path d="M490.29 211.60L492.19 214.83H488.39Z" fill="#00FFFF"/>
<path d="M499.78 212.00L501.68 215.23H497.88Z" fill="#00FFFF"/>
<path d="M509.26 212.30L511.16 215.53H507.36Z" fill="#00FFFF"/>
<path d="M518.75 212.80L520.65 216.03H516.85Z" fill="#00FFFF"/>
<path d="M528.23 213.20L530.13 216.43H526.33Z" fill="#00FFFF"/>
<path d="M54.00 195.90L63.48 191.30L72.97 186.40L82.45 181.20L91.94 175.80L101.42 170.40L110.91 165.30L120.39 160.30L129.88 155.70L139.36 151.10L148.85 147.00L158.33 142.90L167.82 139.90L173.32 138.50L251.94 129.40L255.55 130.10L258.87 130.40" fill="none" stroke="#0019A8" stroke-width="0.8" stroke-opacity="0.75" stroke-linejoin="round"/>
<circle cx="54.00" cy="195.90" r="2.15" fill="#0019A8"/>
<circle cx="63.48" cy="191.30" r="2.15" fill="#0019A8"/>
<circle cx="72.97" cy="186.40" r="2.15" fill="#0019A8"/>
<circle cx="82.45" cy="181.20" r="2.15" fill="#0019A8"/>
<circle cx="91.94" cy="175.80" r="2.15" fill="#0019A8"/>
<circle cx="101.42" cy="170.40" r="2.15" fill="#0019A8"/>
<circle cx="110.91" cy="165.30" r="2.15" fill="#0019A8"/>
<circle cx="120.39" cy="160.30" r="2.15" fill="#0019A8"/>
<circle cx="129.88" cy="155.70" r="2.15" fill="#0019A8"/>
<circle cx="139.36" cy="151.10" r="2.15" fill="#0019A8"/>
<circle cx="148.85" cy="147.00" r="2.15" fill="#0019A8"/>
<circle cx="158.33" cy="142.90" r="2.15" fill="#0019A8"/>
<circle cx="167.82" cy="139.90" r="2.15" fill="#0019A8"/>
<circle cx="173.32" cy="138.50" r="2.15" fill="#0019A8"/>
<circle cx="251.94" cy="129.40" r="2.15" fill="#0019A8"/>
<circle cx="255.55" cy="130.10" r="2.15" fill="#0019A8"/>
<circle cx="258.87" cy="130.40" r="2.15" fill="#0019A8"/>
<path d="M210.80 139.20L211.40 142.70L212.10 146.90L213.20 151.40L215.30 155.90L224.72 168.60L234.21 175.50L243.69 180.30L253.18 183.90L262.66 187.60L272.15 190.70L281.63 193.50L291.12 195.70L300.60 197.70L310.08 199.40L319.57 200.50L329.05 201.60L338.54 203.00L348.02 204.30L357.51 205.40L366.99 206.20L376.48 206.90L385.96 207.70L395.45 208.60L404.93 209.30L414.42 209.90L423.90 210.40L433.38 210.80L442.87 211.10L452.35 211.60L461.84 212.00L471.32 212.50L480.81 212.80L490.29 213.30L499.78 213.70L509.26 214.00L518.75 214.50L528.23 214.90" fill="none" stroke="#0019A8" stroke-width="0.8" stroke-opacity="0.75" stroke-linejoin="round"/>
<circle cx="210.80" cy="139.20" r="2.15" fill="#0019A8"/>
<circle cx="211.40" cy="142.70" r="2.15" fill="#0019A8"/>
<circle cx="212.10" cy="146.90" r="2.15" fill="#0019A8"/>
<circle cx="213.20" cy="151.40" r="2.15" fill="#0019A8"/>
<circle cx="215.30" cy="155.90" r="2.15" fill="#0019A8"/>
<circle cx="224.72" cy="168.60" r="2.15" fill="#0019A8"/>
<circle cx="234.21" cy="175.50" r="2.15" fill="#0019A8"/>
<circle cx="243.69" cy="180.30" r="2.15" fill="#0019A8"/>
<circle cx="253.18" cy="183.90" r="2.15" fill="#0019A8"/>
<circle cx="262.66" cy="187.60" r="2.15" fill="#0019A8"/>
<circle cx="272.15" cy="190.70" r="2.15" fill="#0019A8"/>
<circle cx="281.63" cy="193.50" r="2.15" fill="#0019A8"/>
<circle cx="291.12" cy="195.70" r="2.15" fill="#0019A8"/>
<circle cx="300.60" cy="197.70" r="2.15" fill="#0019A8"/>
<circle cx="310.08" cy="199.40" r="2.15" fill="#0019A8"/>
<circle cx="319.57" cy="200.50" r="2.15" fill="#0019A8"/>
<circle cx="329.05" cy="201.60" r="2.15" fill="#0019A8"/>
<circle cx="338.54" cy="203.00" r="2.15" fill="#0019A8"/>
<circle cx="348.02" cy="204.30" r="2.15" fill="#0019A8"/>
<circle cx="357.51" cy="205.40" r="2.15" fill="#0019A8"/>
<circle cx="366.99" cy="206.20" r="2.15" fill="#0019A8"/>
<circle cx="376.48" cy="206.90" r="2.15" fill="#0019A8"/>
<circle cx="385.96" cy="207.70" r="2.15" fill="#0019A8"/>
<circle cx="395.45" cy="208.60" r="2.15" fill="#0019A8"/>
<circle cx="404.93" cy="209.30" r="2.15" fill="#0019A8"/>
<circle cx="414.42" cy="209.90" r="2.15" fill="#0019A8"/>
<circle cx="423.90" cy="210.40" r="2.15" fill="#0019A8"/>
<circle cx="433.38" cy="210.80" r="2.15" fill="#0019A8"/>
<circle cx="442.87" cy="211.10" r="2.15" fill="#0019A8"/>
<circle cx="452.35" cy="211.60" r="2.15" fill="#0019A8"/>
<circle cx="461.84" cy="212.00" r="2.15" fill="#0019A8"/>
<circle cx="471.32" cy="212.50" r="2.15" fill="#0019A8"/>
<circle cx="480.81" cy="212.80" r="2.15" fill="#0019A8"/>
<circle cx="490.29" cy="213.30" r="2.15" fill="#0019A8"/>
<circle cx="499.78" cy="213.70" r="2.15" fill="#0019A8"/>
<circle cx="509.26" cy="214.00" r="2.15" fill="#0019A8"/>
<circle cx="518.75" cy="214.50" r="2.15" fill="#0019A8"/>
<circle cx="528.23" cy="214.90" r="2.15" fill="#0019A8"/>
<path d="M54.00 197.10L63.48 192.60L72.97 187.90L82.45 183.00L91.94 177.90L101.42 172.70L110.91 167.60L120.39 162.60L129.88 158.00L139.36 153.40L148.85 149.70L158.33 146.70L167.82 143.70L177.30 141.20L182.04 140.30L186.78 139.70L191.53 139.50L196.27 140.20L201.01 142.90L203.38 145.40L204.57 147.50L205.75 149.70L210.50 157.50L215.24 163.70L224.72 172.10L234.21 178.40L243.69 183.00L253.18 186.80L262.66 189.90L272.15 192.10L281.63 194.50L291.12 196.40L300.60 198.10L310.08 199.80L319.57 200.90L329.05 202.00L338.54 203.40L348.02 204.70L357.51 205.80L366.99 206.60L376.48 207.30L385.96 208.10L395.45 209.00L404.93 209.70L414.42 210.30L423.90 210.80L433.38 211.20L442.87 211.50L452.35 212.00L461.84 212.40L471.32 212.90L480.81 213.20L490.29 213.70L499.78 214.10L509.26 214.40L518.75 214.90L528.23 215.30" fill="none" stroke="#00FF00" stroke-width="0.7" stroke-opacity="1.0" stroke-linejoin="round"/>
<circle cx="54.00" cy="197.10" r="1.55" fill="none" stroke="#00FF00" stroke-width="1.6"/>
<circle cx="63.48" cy="192.60" r="1.55" fill="none" stroke="#00FF00" stroke-width="1.6"/>
<circle cx="72.97" cy="187.90" r="1.55" fill="none" stroke="#00FF00" stroke-width="1.6"/>
<circle cx="82.45" cy="183.00" r="1.55" fill="none" stroke="#00FF00" stroke-width="1.6"/>
<circle cx="91.94" cy="177.90" r="1.55" fill="none" stroke="#00FF00" stroke-width="1.6"/>
<circle cx="101.42" cy="172.70" r="1.55" fill="none" stroke="#00FF00" stroke-width="1.6"/>
<circle cx="110.91" cy="167.60" r="1.55" fill="none" stroke="#00FF00" stroke-width="1.6"/>
<circle cx="120.39" cy="162.60" r="1.55" fill="none" stroke="#00FF00" stroke-width="1.6"/>
<circle cx="129.88" cy="158.00" r="1.55" fill="none" stroke="#00FF00" stroke-width="1.6"/>
<circle cx="139.36" cy="153.40" r="1.55" fill="none" stroke="#00FF00" stroke-width="1.6"/>
<circle cx="148.85" cy="149.70" r="1.55" fill="none" stroke="#00FF00" stroke-width="1.6"/>
<circle cx="158.33" cy="146.70" r="1.55" fill="none" stroke="#00FF00" stroke-width="1.6"/>
<circle cx="167.82" cy="143.70" r="1.55" fill="none" stroke="#00FF00" stroke-width="1.6"/>
<circle cx="177.30" cy="141.20" r="1.55" fill="none" stroke="#00FF00" stroke-width="1.6"/>
<circle cx="182.04" cy="140.30" r="1.55" fill="none" stroke="#00FF00" stroke-width="1.6"/>
<circle cx="186.78" cy="139.70" r="1.55" fill="none" stroke="#00FF00" stroke-width="1.6"/>
<circle cx="191.53" cy="139.50" r="1.55" fill="none" stroke="#00FF00" stroke-width="1.6"/>
<circle cx="196.27" cy="140.20" r="1.55" fill="none" stroke="#00FF00" stroke-width="1.6"/>
<circle cx="201.01" cy="142.90" r="1.55" fill="none" stroke="#00FF00" stroke-width="1.6"/>
<circle cx="203.38" cy="145.40" r="1.55" fill="none" stroke="#00FF00" stroke-width="1.6"/>
<circle cx="204.57" cy="147.50" r="1.55" fill="none" stroke="#00FF00" stroke-width="1.6"/>
<circle cx="205.75" cy="149.70" r="1.55" fill="none" stroke="#00FF00" stroke-width="1.6"/>
<circle cx="210.50" cy="157.50" r="1.55" fill="none" stroke="#00FF00" stroke-width="1.6"/>
<circle cx="215.24" cy="163.70" r="1.55" fill="none" stroke="#00FF00" stroke-width="1.6"/>
<circle cx="224.72" cy="172.10" r="1.55" fill="none" stroke="#00FF00" stroke-width="1.6"/>
<circle cx="234.21" cy="178.40" r="1.55" fill="none" stroke="#00FF00" stroke-width="1.6"/>
<circle cx="243.69" cy="183.00" r="1.55" fill="none" stroke="#00FF00" stroke-width="1.6"/>
<circle cx="253.18" cy="186.80" r="1.55" fill="none" stroke="#00FF00" stroke-width="1.6"/>
<circle cx="262.66" cy="189.90" r="1.55" fill="none" stroke="#00FF00" stroke-width="1.6"/>
<circle cx="272.15" cy="192.10" r="1.55" fill="none" stroke="#00FF00" stroke-width="1.6"/>
<circle cx="281.63" cy="194.50" r="1.55" fill="none" stroke="#00FF00" stroke-width="1.6"/>
<circle cx="291.12" cy="196.40" r="1.55" fill="none" stroke="#00FF00" stroke-width="1.6"/>
<circle cx="300.60" cy="198.10" r="1.55" fill="none" stroke="#00FF00" stroke-width="1.6"/>
<circle cx="310.08" cy="199.80" r="1.55" fill="none" stroke="#00FF00" stroke-width="1.6"/>
<circle cx="319.57" cy="200.90" r="1.55" fill="none" stroke="#00FF00" stroke-width="1.6"/>
<circle cx="329.05" cy="202.00" r="1.55" fill="none" stroke="#00FF00" stroke-width="1.6"/>
<circle cx="338.54" cy="203.40" r="1.55" fill="none" stroke="#00FF00" stroke-width="1.6"/>
<circle cx="348.02" cy="204.70" r="1.55" fill="none" stroke="#00FF00" stroke-width="1.6"/>
<circle cx="357.51" cy="205.80" r="1.55" fill="none" stroke="#00FF00" stroke-width="1.6"/>
<circle cx="366.99" cy="206.60" r="1.55" fill="none" stroke="#00FF00" stroke-width="1.6"/>
<circle cx="376.48" cy="207.30" r="1.55" fill="none" stroke="#00FF00" stroke-width="1.6"/>
<circle cx="385.96" cy="208.10" r="1.55" fill="none" stroke="#00FF00" stroke-width="1.6"/>
<circle cx="395.45" cy="209.00" r="1.55" fill="none" stroke="#00FF00" stroke-width="1.6"/>
<circle cx="404.93" cy="209.70" r="1.55" fill="none" stroke="#00FF00" stroke-width="1.6"/>
<circle cx="414.42" cy="210.30" r="1.55" fill="none" stroke="#00FF00" stroke-width="1.6"/>
<circle cx="423.90" cy="210.80" r="1.55" fill="none" stroke="#00FF00" stroke-width="1.6"/>
<circle cx="433.38" cy="211.20" r="1.55" fill="none" stroke="#00FF00" stroke-width="1.6"/>
<circle cx="442.87" cy="211.50" r="1.55" fill="none" stroke="#00FF00" stroke-width="1.6"/>
<circle cx="452.35" cy="212.00" r="1.55" fill="none" stroke="#00FF00" stroke-width="1.6"/>
<circle cx="461.84" cy="212.40" r="1.55" fill="none" stroke="#00FF00" stroke-width="1.6"/>
<circle cx="471.32" cy="212.90" r="1.55" fill="none" stroke="#00FF00" stroke-width="1.6"/>
<circle cx="480.81" cy="213.20" r="1.55" fill="none" stroke="#00FF00" stroke-width="1.6"/>
<circle cx="490.29" cy="213.70" r="1.55" fill="none" stroke="#00FF00" stroke-width="1.6"/>
<circle cx="499.78" cy="214.10" r="1.55" fill="none" stroke="#00FF00" stroke-width="1.6"/>
<circle cx="509.26" cy="214.40" r="1.55" fill="none" stroke="#00FF00" stroke-width="1.6"/>
<circle cx="518.75" cy="214.90" r="1.55" fill="none" stroke="#00FF00" stroke-width="1.6"/>
<circle cx="528.23" cy="215.30" r="1.55" fill="none" stroke="#00FF00" stroke-width="1.6"/>
</g>
<g id="botdata">
<path d="M64.50 305.30L73.82 307.70L83.15 309.80L92.47 313.40L101.79 315.20L111.12 319.30L120.44 321.80L129.76 324.40L139.08 327.80L148.41 329.30L151.86 330.20L205.74 334.10L213.67 335.90L222.99 336.90L232.32 337.60L241.64 338.60L250.96 337.90L260.28 337.90L269.61 337.90L278.93 337.90L288.25 338.70L297.58 339.20L306.90 338.20L316.22 338.70L325.55 338.20L334.87 338.20L344.19 338.10L353.52 338.10L362.84 338.80L372.16 338.30L381.48 338.80L390.81 338.80L400.13 338.80L409.45 338.00L418.78 338.30L428.10 336.80L437.42 337.60L446.75 337.10L456.07 336.90L465.39 336.30L467.91 337.10L470.43 338.00" fill="none" stroke="#DC143C" stroke-width="0.9" stroke-opacity="1.0" stroke-linejoin="round"/>
<path d="M62.90 303.70L66.10 306.90M62.90 306.90L66.10 303.70" stroke="#DC143C" stroke-width="1.2" fill="none" stroke-linecap="square"/><path d="M62.50 303.30H66.50M62.50 307.30H66.50M64.50 303.30V307.30" stroke="#DC143C" stroke-width="0.8" fill="none"/>
<path d="M72.22 306.10L75.42 309.30M72.22 309.30L75.42 306.10" stroke="#DC143C" stroke-width="1.2" fill="none" stroke-linecap="square"/><path d="M71.82 305.70H75.82M71.82 309.70H75.82M73.82 305.70V309.70" stroke="#DC143C" stroke-width="0.8" fill="none"/>
<path d="M81.55 308.20L84.75 311.40M81.55 311.40L84.75 308.20" stroke="#DC143C" stroke-width="1.2" fill="none" stroke-linecap="square"/><path d="M81.15 307.80H85.15M81.15 311.80H85.15M83.15 307.80V311.80" stroke="#DC143C" stroke-width="0.8" fill="none"/>
<path d="M90.87 311.80L94.07 315.00M90.87 315.00L94.07 311.80" stroke="#DC143C" stroke-width="1.2" fill="none" stroke-linecap="square"/><path d="M90.47 311.40H94.47M90.47 315.40H94.47M92.47 311.40V315.40" stroke="#DC143C" stroke-width="0.8" fill="none"/>
<path d="M100.19 313.60L103.39 316.80M100.19 316.80L103.39 313.60" stroke="#DC143C" stroke-width="1.2" fill="none" stroke-linecap="square"/><path d="M99.79 313.20H103.79M99.79 317.20H103.79M101.79 313.20V317.20" stroke="#DC143C" stroke-width="0.8" fill="none"/>
<path d="M109.52 317.70L112.72 320.90M109.52 320.90L112.72 317.70" stroke="#DC143C" stroke-width="1.2" fill="none" stroke-linecap="square"/><path d="M109.12 317.30H113.12M109.12 321.30H113.12M111.12 317.30V321.30" stroke="#DC143C" stroke-width="0.8" fill="none"/>
<path d="M118.84 320.20L122.04 323.40M118.84 323.40L122.04 320.20" stroke="#DC143C" stroke-width="1.2" fill="none" stroke-linecap="square"/><path d="M118.44 319.80H122.44M118.44 323.80H122.44M120.44 319.80V323.80" stroke="#DC143C" stroke-width="0.8" fill="none"/>
<path d="M128.16 322.80L131.36 326.00M128.16 326.00L131.36 322.80" stroke="#DC143C" stroke-width="1.2" fill="none" stroke-linecap="square"/><path d="M127.76 322.40H131.76M127.76 326.40H131.76M129.76 322.40V326.40" stroke="#DC143C" stroke-width="0.8" fill="none"/>
<path d="M137.48 326.20L140.68 329.40M137.48 329.40L140.68 326.20" stroke="#DC143C" stroke-width="1.2" fill="none" stroke-linecap="square"/><path d="M137.08 325.80H141.08M137.08 329.80H141.08M139.08 325.80V329.80" stroke="#DC143C" stroke-width="0.8" fill="none"/>
<path d="M146.81 327.70L150.01 330.90M146.81 330.90L150.01 327.70" stroke="#DC143C" stroke-width="1.2" fill="none" stroke-linecap="square"/><path d="M146.41 327.30H150.41M146.41 331.30H150.41M148.41 327.30V331.30" stroke="#DC143C" stroke-width="0.8" fill="none"/>
<path d="M150.26 328.60L153.46 331.80M150.26 331.80L153.46 328.60" stroke="#DC143C" stroke-width="1.2" fill="none" stroke-linecap="square"/><path d="M149.86 328.20H153.86M149.86 332.20H153.86M151.86 328.20V332.20" stroke="#DC143C" stroke-width="0.8" fill="none"/>
<path d="M204.14 332.50L207.34 335.70M204.14 335.70L207.34 332.50" stroke="#DC143C" stroke-width="1.2" fill="none" stroke-linecap="square"/><path d="M203.74 332.10H207.74M203.74 336.10H207.74M205.74 332.10V336.10" stroke="#DC143C" stroke-width="0.8" fill="none"/>
<path d="M212.07 334.30L215.27 337.50M212.07 337.50L215.27 334.30" stroke="#DC143C" stroke-width="1.2" fill="none" stroke-linecap="square"/><path d="M211.67 333.90H215.67M211.67 337.90H215.67M213.67 333.90V337.90" stroke="#DC143C" stroke-width="0.8" fill="none"/>
<path d="M221.39 335.30L224.59 338.50M221.39 338.50L224.59 335.30" stroke="#DC143C" stroke-width="1.2" fill="none" stroke-linecap="square"/><path d="M220.99 334.90H224.99M220.99 338.90H224.99M222.99 334.90V338.90" stroke="#DC143C" stroke-width="0.8" fill="none"/>
<path d="M230.72 336.00L233.92 339.20M230.72 339.20L233.92 336.00" stroke="#DC143C" stroke-width="1.2" fill="none" stroke-linecap="square"/><path d="M230.32 335.60H234.32M230.32 339.60H234.32M232.32 335.60V339.60" stroke="#DC143C" stroke-width="0.8" fill="none"/>
<path d="M240.04 337.00L243.24 340.20M240.04 340.20L243.24 337.00" stroke="#DC143C" stroke-width="1.2" fill="none" stroke-linecap="square"/><path d="M239.64 336.60H243.64M239.64 340.60H243.64M241.64 336.60V340.60" stroke="#DC143C" stroke-width="0.8" fill="none"/>
<path d="M249.36 336.30L252.56 339.50M249.36 339.50L252.56 336.30" stroke="#DC143C" stroke-width="1.2" fill="none" stroke-linecap="square"/><path d="M248.96 335.90H252.96M248.96 339.90H252.96M250.96 335.90V339.90" stroke="#DC143C" stroke-width="0.8" fill="none"/>
<path d="M258.68 336.30L261.88 339.50M258.68 339.50L261.88 336.30" stroke="#DC143C" stroke-width="1.2" fill="none" stroke-linecap="square"/><path d="M258.28 335.90H262.28M258.28 339.90H262.28M260.28 335.90V339.90" stroke="#DC143C" stroke-width="0.8" fill="none"/>
<path d="M268.01 336.30L271.21 339.50M268.01 339.50L271.21 336.30" stroke="#DC143C" stroke-width="1.2" fill="none" stroke-linecap="square"/><path d="M267.61 335.90H271.61M267.61 339.90H271.61M269.61 335.90V339.90" stroke="#DC143C" stroke-width="0.8" fill="none"/>
<path d="M277.33 336.30L280.53 339.50M277.33 339.50L280.53 336.30" stroke="#DC143C" stroke-width="1.2" fill="none" stroke-linecap="square"/><path d="M276.93 335.90H280.93M276.93 339.90H280.93M278.93 335.90V339.90" stroke="#DC143C" stroke-width="0.8" fill="none"/>
<path d="M286.65 337.10L289.85 340.30M286.65 340.30L289.85 337.10" stroke="#DC143C" stroke-width="1.2" fill="none" stroke-linecap="square"/><path d="M286.25 336.70H290.25M286.25 340.70H290.25M288.25 336.70V340.70" stroke="#DC143C" stroke-width="0.8" fill="none"/>
<path d="M295.98 337.60L299.18 340.80M295.98 340.80L299.18 337.60" stroke="#DC143C" stroke-width="1.2" fill="none" stroke-linecap="square"/><path d="M295.58 337.20H299.58M295.58 341.20H299.58M297.58 337.20V341.20" stroke="#DC143C" stroke-width="0.8" fill="none"/>
<path d="M305.30 336.60L308.50 339.80M305.30 339.80L308.50 336.60" stroke="#DC143C" stroke-width="1.2" fill="none" stroke-linecap="square"/><path d="M304.90 336.20H308.90M304.90 340.20H308.90M306.90 336.20V340.20" stroke="#DC143C" stroke-width="0.8" fill="none"/>
<path d="M314.62 337.10L317.82 340.30M314.62 340.30L317.82 337.10" stroke="#DC143C" stroke-width="1.2" fill="none" stroke-linecap="square"/><path d="M314.22 336.70H318.22M314.22 340.70H318.22M316.22 336.70V340.70" stroke="#DC143C" stroke-width="0.8" fill="none"/>
<path d="M323.95 336.60L327.15 339.80M323.95 339.80L327.15 336.60" stroke="#DC143C" stroke-width="1.2" fill="none" stroke-linecap="square"/><path d="M323.55 336.20H327.55M323.55 340.20H327.55M325.55 336.20V340.20" stroke="#DC143C" stroke-width="0.8" fill="none"/>
<path d="M333.27 336.60L336.47 339.80M333.27 339.80L336.47 336.60" stroke="#DC143C" stroke-width="1.2" fill="none" stroke-linecap="square"/><path d="M332.87 336.20H336.87M332.87 340.20H336.87M334.87 336.20V340.20" stroke="#DC143C" stroke-width="0.8" fill="none"/>
<path d="M342.59 336.50L345.79 339.70M342.59 339.70L345.79 336.50" stroke="#DC143C" stroke-width="1.2" fill="none" stroke-linecap="square"/><path d="M342.19 336.10H346.19M342.19 340.10H346.19M344.19 336.10V340.10" stroke="#DC143C" stroke-width="0.8" fill="none"/>
<path d="M351.92 336.50L355.12 339.70M351.92 339.70L355.12 336.50" stroke="#DC143C" stroke-width="1.2" fill="none" stroke-linecap="square"/><path d="M351.52 336.10H355.52M351.52 340.10H355.52M353.52 336.10V340.10" stroke="#DC143C" stroke-width="0.8" fill="none"/>
<path d="M361.24 337.20L364.44 340.40M361.24 340.40L364.44 337.20" stroke="#DC143C" stroke-width="1.2" fill="none" stroke-linecap="square"/><path d="M360.84 336.80H364.84M360.84 340.80H364.84M362.84 336.80V340.80" stroke="#DC143C" stroke-width="0.8" fill="none"/>
<path d="M370.56 336.70L373.76 339.90M370.56 339.90L373.76 336.70" stroke="#DC143C" stroke-width="1.2" fill="none" stroke-linecap="square"/><path d="M370.16 336.30H374.16M370.16 340.30H374.16M372.16 336.30V340.30" stroke="#DC143C" stroke-width="0.8" fill="none"/>
<path d="M379.88 337.20L383.08 340.40M379.88 340.40L383.08 337.20" stroke="#DC143C" stroke-width="1.2" fill="none" stroke-linecap="square"/><path d="M379.48 336.80H383.48M379.48 340.80H383.48M381.48 336.80V340.80" stroke="#DC143C" stroke-width="0.8" fill="none"/>
<path d="M389.21 337.20L392.41 340.40M389.21 340.40L392.41 337.20" stroke="#DC143C" stroke-width="1.2" fill="none" stroke-linecap="square"/><path d="M388.81 336.80H392.81M388.81 340.80H392.81M390.81 336.80V340.80" stroke="#DC143C" stroke-width="0.8" fill="none"/>
<path d="M398.53 337.20L401.73 340.40M398.53 340.40L401.73 337.20" stroke="#DC143C" stroke-width="1.2" fill="none" stroke-linecap="square"/><path d="M398.13 336.80H402.13M398.13 340.80H402.13M400.13 336.80V340.80" stroke="#DC143C" stroke-width="0.8" fill="none"/>
<path d="M407.85 336.40L411.05 339.60M407.85 339.60L411.05 336.40" stroke="#DC143C" stroke-width="1.2" fill="none" stroke-linecap="square"/><path d="M407.45 336.00H411.45M407.45 340.00H411.45M409.45 336.00V340.00" stroke="#DC143C" stroke-width="0.8" fill="none"/>
<path d="M417.18 336.70L420.38 339.90M417.18 339.90L420.38 336.70" stroke="#DC143C" stroke-width="1.2" fill="none" stroke-linecap="square"/><path d="M416.78 336.30H420.78M416.78 340.30H420.78M418.78 336.30V340.30" stroke="#DC143C" stroke-width="0.8" fill="none"/>
<path d="M426.50 335.20L429.70 338.40M426.50 338.40L429.70 335.20" stroke="#DC143C" stroke-width="1.2" fill="none" stroke-linecap="square"/><path d="M426.10 334.80H430.10M426.10 338.80H430.10M428.10 334.80V338.80" stroke="#DC143C" stroke-width="0.8" fill="none"/>
<path d="M435.82 336.00L439.02 339.20M435.82 339.20L439.02 336.00" stroke="#DC143C" stroke-width="1.2" fill="none" stroke-linecap="square"/><path d="M435.42 335.60H439.42M435.42 339.60H439.42M437.42 335.60V339.60" stroke="#DC143C" stroke-width="0.8" fill="none"/>
<path d="M445.15 335.50L448.35 338.70M445.15 338.70L448.35 335.50" stroke="#DC143C" stroke-width="1.2" fill="none" stroke-linecap="square"/><path d="M444.75 335.10H448.75M444.75 339.10H448.75M446.75 335.10V339.10" stroke="#DC143C" stroke-width="0.8" fill="none"/>
<path d="M454.47 335.30L457.67 338.50M454.47 338.50L457.67 335.30" stroke="#DC143C" stroke-width="1.2" fill="none" stroke-linecap="square"/><path d="M454.07 334.90H458.07M454.07 338.90H458.07M456.07 334.90V338.90" stroke="#DC143C" stroke-width="0.8" fill="none"/>
<path d="M463.79 334.70L466.99 337.90M463.79 337.90L466.99 334.70" stroke="#DC143C" stroke-width="1.2" fill="none" stroke-linecap="square"/><path d="M463.39 334.30H467.39M463.39 338.30H467.39M465.39 334.30V338.30" stroke="#DC143C" stroke-width="0.8" fill="none"/>
<path d="M466.31 335.50L469.51 338.70M466.31 338.70L469.51 335.50" stroke="#DC143C" stroke-width="1.2" fill="none" stroke-linecap="square"/><path d="M465.91 335.10H469.91M465.91 339.10H469.91M467.91 335.10V339.10" stroke="#DC143C" stroke-width="0.8" fill="none"/>
<path d="M468.83 336.40L472.03 339.60M468.83 339.60L472.03 336.40" stroke="#DC143C" stroke-width="1.2" fill="none" stroke-linecap="square"/><path d="M468.43 336.00H472.43M468.43 340.00H472.43M470.43 336.00V340.00" stroke="#DC143C" stroke-width="0.8" fill="none"/>
<path d="M243.60 462.70L245.30 466.00L247.60 467.80L250.96 468.90L260.28 472.90L269.61 475.10L278.93 477.00L288.25 478.50L297.58 479.60L306.90 480.80L316.22 481.50L325.55 482.50L334.87 483.20L344.19 483.90L353.52 484.60L362.84 485.00L372.16 485.60L381.48 485.70L390.81 486.00L400.13 486.40L409.45 486.80L418.78 487.10L428.10 487.40L437.42 487.70L446.75 488.00L456.07 488.20L465.39 488.40L474.72 488.50L484.04 488.70L493.36 488.90L502.68 489.00L512.01 489.20L521.33 489.30L530.65 489.50" fill="none" stroke="#DC143C" stroke-width="0.9" stroke-opacity="1.0" stroke-linejoin="round"/>
<path d="M241.50 462.70H245.70M243.60 460.60V464.80" stroke="#DC143C" stroke-width="1.1" fill="none"/><path d="M242.20 461.30H245.00M242.20 464.10H245.00" stroke="#DC143C" stroke-width="0.8" stroke-opacity="0.8" fill="none"/>
<path d="M243.20 466.00H247.40M245.30 463.90V468.10" stroke="#DC143C" stroke-width="1.1" fill="none"/><path d="M243.90 464.60H246.70M243.90 467.40H246.70" stroke="#DC143C" stroke-width="0.8" stroke-opacity="0.8" fill="none"/>
<path d="M245.50 467.80H249.70M247.60 465.70V469.90" stroke="#DC143C" stroke-width="1.1" fill="none"/><path d="M246.20 466.40H249.00M246.20 469.20H249.00" stroke="#DC143C" stroke-width="0.8" stroke-opacity="0.8" fill="none"/>
<path d="M248.86 468.90H253.06M250.96 466.80V471.00" stroke="#DC143C" stroke-width="1.1" fill="none"/><path d="M249.56 467.50H252.36M249.56 470.30H252.36" stroke="#DC143C" stroke-width="0.8" stroke-opacity="0.8" fill="none"/>
<path d="M258.18 472.90H262.38M260.28 470.80V475.00" stroke="#DC143C" stroke-width="1.1" fill="none"/><path d="M258.88 471.50H261.68M258.88 474.30H261.68" stroke="#DC143C" stroke-width="0.8" stroke-opacity="0.8" fill="none"/>
<path d="M267.51 475.10H271.71M269.61 473.00V477.20" stroke="#DC143C" stroke-width="1.1" fill="none"/><path d="M268.21 473.70H271.01M268.21 476.50H271.01" stroke="#DC143C" stroke-width="0.8" stroke-opacity="0.8" fill="none"/>
<path d="M276.83 477.00H281.03M278.93 474.90V479.10" stroke="#DC143C" stroke-width="1.1" fill="none"/><path d="M277.53 475.60H280.33M277.53 478.40H280.33" stroke="#DC143C" stroke-width="0.8" stroke-opacity="0.8" fill="none"/>
<path d="M286.15 478.50H290.35M288.25 476.40V480.60" stroke="#DC143C" stroke-width="1.1" fill="none"/><path d="M286.85 477.10H289.65M286.85 479.90H289.65" stroke="#DC143C" stroke-width="0.8" stroke-opacity="0.8" fill="none"/>
<path d="M295.48 479.60H299.68M297.58 477.50V481.70" stroke="#DC143C" stroke-width="1.1" fill="none"/><path d="M296.18 478.20H298.98M296.18 481.00H298.98" stroke="#DC143C" stroke-width="0.8" stroke-opacity="0.8" fill="none"/>
<path d="M304.80 480.80H309.00M306.90 478.70V482.90" stroke="#DC143C" stroke-width="1.1" fill="none"/><path d="M305.50 479.40H308.30M305.50 482.20H308.30" stroke="#DC143C" stroke-width="0.8" stroke-opacity="0.8" fill="none"/>
<path d="M314.12 481.50H318.32M316.22 479.40V483.60" stroke="#DC143C" stroke-width="1.1" fill="none"/><path d="M314.82 480.10H317.62M314.82 482.90H317.62" stroke="#DC143C" stroke-width="0.8" stroke-opacity="0.8" fill="none"/>
<path d="M323.45 482.50H327.65M325.55 480.40V484.60" stroke="#DC143C" stroke-width="1.1" fill="none"/><path d="M324.15 481.10H326.95M324.15 483.90H326.95" stroke="#DC143C" stroke-width="0.8" stroke-opacity="0.8" fill="none"/>
<path d="M332.77 483.20H336.97M334.87 481.10V485.30" stroke="#DC143C" stroke-width="1.1" fill="none"/><path d="M333.47 481.80H336.27M333.47 484.60H336.27" stroke="#DC143C" stroke-width="0.8" stroke-opacity="0.8" fill="none"/>
<path d="M342.09 483.90H346.29M344.19 481.80V486.00" stroke="#DC143C" stroke-width="1.1" fill="none"/><path d="M342.79 482.50H345.59M342.79 485.30H345.59" stroke="#DC143C" stroke-width="0.8" stroke-opacity="0.8" fill="none"/>
<path d="M351.42 484.60H355.62M353.52 482.50V486.70" stroke="#DC143C" stroke-width="1.1" fill="none"/><path d="M352.12 483.20H354.92M352.12 486.00H354.92" stroke="#DC143C" stroke-width="0.8" stroke-opacity="0.8" fill="none"/>
<path d="M360.74 485.00H364.94M362.84 482.90V487.10" stroke="#DC143C" stroke-width="1.1" fill="none"/><path d="M361.44 483.60H364.24M361.44 486.40H364.24" stroke="#DC143C" stroke-width="0.8" stroke-opacity="0.8" fill="none"/>
<path d="M370.06 485.60H374.26M372.16 483.50V487.70" stroke="#DC143C" stroke-width="1.1" fill="none"/><path d="M370.76 484.20H373.56M370.76 487.00H373.56" stroke="#DC143C" stroke-width="0.8" stroke-opacity="0.8" fill="none"/>
<path d="M379.38 485.70H383.58M381.48 483.60V487.80" stroke="#DC143C" stroke-width="1.1" fill="none"/><path d="M380.08 484.30H382.88M380.08 487.10H382.88" stroke="#DC143C" stroke-width="0.8" stroke-opacity="0.8" fill="none"/>
<path d="M388.71 486.00H392.91M390.81 483.90V488.10" stroke="#DC143C" stroke-width="1.1" fill="none"/><path d="M389.41 484.60H392.21M389.41 487.40H392.21" stroke="#DC143C" stroke-width="0.8" stroke-opacity="0.8" fill="none"/>
<path d="M398.03 486.40H402.23M400.13 484.30V488.50" stroke="#DC143C" stroke-width="1.1" fill="none"/><path d="M398.73 485.00H401.53M398.73 487.80H401.53" stroke="#DC143C" stroke-width="0.8" stroke-opacity="0.8" fill="none"/>
<path d="M407.35 486.80H411.55M409.45 484.70V488.90" stroke="#DC143C" stroke-width="1.1" fill="none"/><path d="M408.05 485.40H410.85M408.05 488.20H410.85" stroke="#DC143C" stroke-width="0.8" stroke-opacity="0.8" fill="none"/>
<path d="M416.68 487.10H420.88M418.78 485.00V489.20" stroke="#DC143C" stroke-width="1.1" fill="none"/><path d="M417.38 485.70H420.18M417.38 488.50H420.18" stroke="#DC143C" stroke-width="0.8" stroke-opacity="0.8" fill="none"/>
<path d="M426.00 487.40H430.20M428.10 485.30V489.50" stroke="#DC143C" stroke-width="1.1" fill="none"/><path d="M426.70 486.00H429.50M426.70 488.80H429.50" stroke="#DC143C" stroke-width="0.8" stroke-opacity="0.8" fill="none"/>
<path d="M435.32 487.70H439.52M437.42 485.60V489.80" stroke="#DC143C" stroke-width="1.1" fill="none"/><path d="M436.02 486.30H438.82M436.02 489.10H438.82" stroke="#DC143C" stroke-width="0.8" stroke-opacity="0.8" fill="none"/>
<path d="M444.65 488.00H448.85M446.75 485.90V490.10" stroke="#DC143C" stroke-width="1.1" fill="none"/><path d="M445.35 486.60H448.15M445.35 489.40H448.15" stroke="#DC143C" stroke-width="0.8" stroke-opacity="0.8" fill="none"/>
<path d="M453.97 488.20H458.17M456.07 486.10V490.30" stroke="#DC143C" stroke-width="1.1" fill="none"/><path d="M454.67 486.80H457.47M454.67 489.60H457.47" stroke="#DC143C" stroke-width="0.8" stroke-opacity="0.8" fill="none"/>
<path d="M463.29 488.40H467.49M465.39 486.30V490.50" stroke="#DC143C" stroke-width="1.1" fill="none"/><path d="M463.99 487.00H466.79M463.99 489.80H466.79" stroke="#DC143C" stroke-width="0.8" stroke-opacity="0.8" fill="none"/>
<path d="M472.62 488.50H476.82M474.72 486.40V490.60" stroke="#DC143C" stroke-width="1.1" fill="none"/><path d="M473.32 487.10H476.12M473.32 489.90H476.12" stroke="#DC143C" stroke-width="0.8" stroke-opacity="0.8" fill="none"/>
<path d="M481.94 488.70H486.14M484.04 486.60V490.80" stroke="#DC143C" stroke-width="1.1" fill="none"/><path d="M482.64 487.30H485.44M482.64 490.10H485.44" stroke="#DC143C" stroke-width="0.8" stroke-opacity="0.8" fill="none"/>
<path d="M491.26 488.90H495.46M493.36 486.80V491.00" stroke="#DC143C" stroke-width="1.1" fill="none"/><path d="M491.96 487.50H494.76M491.96 490.30H494.76" stroke="#DC143C" stroke-width="0.8" stroke-opacity="0.8" fill="none"/>
<path d="M500.58 489.00H504.78M502.68 486.90V491.10" stroke="#DC143C" stroke-width="1.1" fill="none"/><path d="M501.28 487.60H504.08M501.28 490.40H504.08" stroke="#DC143C" stroke-width="0.8" stroke-opacity="0.8" fill="none"/>
<path d="M509.91 489.20H514.11M512.01 487.10V491.30" stroke="#DC143C" stroke-width="1.1" fill="none"/><path d="M510.61 487.80H513.41M510.61 490.60H513.41" stroke="#DC143C" stroke-width="0.8" stroke-opacity="0.8" fill="none"/>
<path d="M519.23 489.30H523.43M521.33 487.20V491.40" stroke="#DC143C" stroke-width="1.1" fill="none"/><path d="M519.93 487.90H522.73M519.93 490.70H522.73" stroke="#DC143C" stroke-width="0.8" stroke-opacity="0.8" fill="none"/>
<path d="M528.55 489.50H532.75M530.65 487.40V491.60" stroke="#DC143C" stroke-width="1.1" fill="none"/><path d="M529.25 488.10H532.05M529.25 490.90H532.05" stroke="#DC143C" stroke-width="0.8" stroke-opacity="0.8" fill="none"/>
<path d="M64.50 311.70L73.82 314.10L83.15 317.60L92.47 320.80L101.79 325.10L111.12 328.50L120.44 332.90L129.76 336.40L139.08 340.20L148.41 343.80L157.73 347.50L160.53 348.60L219.64 355.30L222.99 356.70L232.32 358.40L241.64 359.90L250.96 360.80L260.28 362.00L269.61 362.80L278.93 364.20L288.25 365.00L297.58 365.85L306.90 366.20L316.22 366.40L325.55 366.20L334.87 365.85L344.19 367.10L353.52 367.10L362.84 367.10L372.16 367.10L381.48 365.90L390.81 367.60L400.13 365.90L409.45 365.90L418.78 365.90L428.10 366.40L437.42 366.40L446.75 366.40L456.07 365.90L465.39 365.40L474.72 365.90L484.04 364.75L493.36 364.75L502.68 364.75L512.01 364.75L521.33 363.70L530.65 363.70L541.66 363.70L550.23 362.60L555.27 362.60L567.01 361.40L578.20 361.60L584.17 360.65L590.04 361.20L595.92 359.90" fill="none" stroke="#B8860B" stroke-width="1.0" stroke-opacity="1.0" stroke-linejoin="round"/>
<circle cx="64.50" cy="311.70" r="2.15" fill="#B8860B"/>
<circle cx="73.82" cy="314.10" r="2.15" fill="#B8860B"/>
<circle cx="83.15" cy="317.60" r="2.15" fill="#B8860B"/>
<circle cx="92.47" cy="320.80" r="2.15" fill="#B8860B"/>
<circle cx="101.79" cy="325.10" r="2.15" fill="#B8860B"/>
<circle cx="111.12" cy="328.50" r="2.15" fill="#B8860B"/>
<circle cx="120.44" cy="332.90" r="2.15" fill="#B8860B"/>
<circle cx="129.76" cy="336.40" r="2.15" fill="#B8860B"/>
<circle cx="139.08" cy="340.20" r="2.15" fill="#B8860B"/>
<circle cx="148.41" cy="343.80" r="2.15" fill="#B8860B"/>
<circle cx="157.73" cy="347.50" r="2.15" fill="#B8860B"/>
<circle cx="160.53" cy="348.60" r="2.15" fill="#B8860B"/>
<circle cx="219.64" cy="355.30" r="2.15" fill="#B8860B"/>
<circle cx="222.99" cy="356.70" r="2.15" fill="#B8860B"/>
<circle cx="232.32" cy="358.40" r="2.15" fill="#B8860B"/>
<circle cx="241.64" cy="359.90" r="2.15" fill="#B8860B"/>
<circle cx="250.96" cy="360.80" r="2.15" fill="#B8860B"/>
<circle cx="260.28" cy="362.00" r="2.15" fill="#B8860B"/>
<circle cx="269.61" cy="362.80" r="2.15" fill="#B8860B"/>
<circle cx="278.93" cy="364.20" r="2.15" fill="#B8860B"/>
<circle cx="288.25" cy="365.00" r="2.15" fill="#B8860B"/>
<circle cx="297.58" cy="365.85" r="2.15" fill="#B8860B"/>
<circle cx="306.90" cy="366.20" r="2.15" fill="#B8860B"/>
<circle cx="316.22" cy="366.40" r="2.15" fill="#B8860B"/>
<circle cx="325.55" cy="366.20" r="2.15" fill="#B8860B"/>
<circle cx="334.87" cy="365.85" r="2.15" fill="#B8860B"/>
<circle cx="344.19" cy="367.10" r="2.15" fill="#B8860B"/>
<circle cx="353.52" cy="367.10" r="2.15" fill="#B8860B"/>
<circle cx="362.84" cy="367.10" r="2.15" fill="#B8860B"/>
<circle cx="372.16" cy="367.10" r="2.15" fill="#B8860B"/>
<circle cx="381.48" cy="365.90" r="2.15" fill="#B8860B"/>
<circle cx="390.81" cy="367.60" r="2.15" fill="#B8860B"/>
<circle cx="400.13" cy="365.90" r="2.15" fill="#B8860B"/>
<circle cx="409.45" cy="365.90" r="2.15" fill="#B8860B"/>
<circle cx="418.78" cy="365.90" r="2.15" fill="#B8860B"/>
<circle cx="428.10" cy="366.40" r="2.15" fill="#B8860B"/>
<circle cx="437.42" cy="366.40" r="2.15" fill="#B8860B"/>
<circle cx="446.75" cy="366.40" r="2.15" fill="#B8860B"/>
<circle cx="456.07" cy="365.90" r="2.15" fill="#B8860B"/>
<circle cx="465.39" cy="365.40" r="2.15" fill="#B8860B"/>
<circle cx="474.72" cy="365.90" r="2.15" fill="#B8860B"/>
<circle cx="484.04" cy="364.75" r="2.15" fill="#B8860B"/>
<circle cx="493.36" cy="364.75" r="2.15" fill="#B8860B"/>
<circle cx="502.68" cy="364.75" r="2.15" fill="#B8860B"/>
<circle cx="512.01" cy="364.75" r="2.15" fill="#B8860B"/>
<circle cx="521.33" cy="363.70" r="2.15" fill="#B8860B"/>
<circle cx="530.65" cy="363.70" r="2.15" fill="#B8860B"/>
<circle cx="541.66" cy="363.70" r="2.15" fill="#B8860B"/>
<circle cx="550.23" cy="362.60" r="2.15" fill="#B8860B"/>
<circle cx="555.27" cy="362.60" r="2.15" fill="#B8860B"/>
<circle cx="567.01" cy="361.40" r="2.15" fill="#B8860B"/>
<circle cx="578.20" cy="361.60" r="2.15" fill="#B8860B"/>
<path d="M584.17 357.65V363.65M581.97 357.65H586.37M581.97 363.65H586.37" stroke="#B8860B" stroke-width="0.8" fill="none" stroke-opacity="0.6"/>
<circle cx="584.17" cy="360.65" r="2.15" fill="#B8860B"/>
<path d="M590.04 355.20V367.20M587.84 355.20H592.24M587.84 367.20H592.24" stroke="#B8860B" stroke-width="0.8" fill="none" stroke-opacity="0.6"/>
<circle cx="590.04" cy="361.20" r="2.15" fill="#B8860B"/>
<path d="M595.92 352.70V367.10M593.72 352.70H598.12M593.72 367.10H598.12" stroke="#B8860B" stroke-width="0.8" fill="none" stroke-opacity="0.6"/>
<circle cx="595.92" cy="359.90" r="2.15" fill="#B8860B"/>
<path d="M235.20 448.00L235.70 451.50L236.30 454.80L238.00 456.80L240.30 458.20L250.96 464.20L260.28 467.80L269.61 470.40L278.93 472.10L288.25 474.00L297.58 475.50L306.90 476.80L316.22 477.80L325.55 479.00L334.87 479.70L344.19 480.10L353.52 480.60L362.84 481.40L372.16 481.80L381.48 482.20L390.81 482.70L400.13 483.20L409.45 483.70L418.78 484.20L428.10 484.80L437.42 485.30L446.75 485.70L456.07 486.00L465.39 486.30L474.72 486.50L484.04 486.80L493.36 487.00L502.68 487.10L512.01 487.20L521.33 487.30L530.65 487.40L541.56 487.70L550.05 487.85L555.36 487.85L567.01 487.85L584.17 487.80L595.92 488.10L620.62 488.50L636.38 488.50" fill="none" stroke="#B8860B" stroke-width="1.0" stroke-opacity="1.0" stroke-linejoin="round"/>
<rect x="233.05" y="445.85" width="4.30" height="4.30" fill="#B8860B"/>
<rect x="233.55" y="449.35" width="4.30" height="4.30" fill="#B8860B"/>
<rect x="234.15" y="452.65" width="4.30" height="4.30" fill="#B8860B"/>
<rect x="235.85" y="454.65" width="4.30" height="4.30" fill="#B8860B"/>
<rect x="238.15" y="456.05" width="4.30" height="4.30" fill="#B8860B"/>
<rect x="248.81" y="462.05" width="4.30" height="4.30" fill="#B8860B"/>
<rect x="258.13" y="465.65" width="4.30" height="4.30" fill="#B8860B"/>
<rect x="267.46" y="468.25" width="4.30" height="4.30" fill="#B8860B"/>
<rect x="276.78" y="469.95" width="4.30" height="4.30" fill="#B8860B"/>
<rect x="286.10" y="471.85" width="4.30" height="4.30" fill="#B8860B"/>
<rect x="295.43" y="473.35" width="4.30" height="4.30" fill="#B8860B"/>
<rect x="304.75" y="474.65" width="4.30" height="4.30" fill="#B8860B"/>
<rect x="314.07" y="475.65" width="4.30" height="4.30" fill="#B8860B"/>
<rect x="323.40" y="476.85" width="4.30" height="4.30" fill="#B8860B"/>
<rect x="332.72" y="477.55" width="4.30" height="4.30" fill="#B8860B"/>
<rect x="342.04" y="477.95" width="4.30" height="4.30" fill="#B8860B"/>
<rect x="351.37" y="478.45" width="4.30" height="4.30" fill="#B8860B"/>
<rect x="360.69" y="479.25" width="4.30" height="4.30" fill="#B8860B"/>
<rect x="370.01" y="479.65" width="4.30" height="4.30" fill="#B8860B"/>
<rect x="379.33" y="480.05" width="4.30" height="4.30" fill="#B8860B"/>
<rect x="388.66" y="480.55" width="4.30" height="4.30" fill="#B8860B"/>
<rect x="397.98" y="481.05" width="4.30" height="4.30" fill="#B8860B"/>
<rect x="407.30" y="481.55" width="4.30" height="4.30" fill="#B8860B"/>
<rect x="416.63" y="482.05" width="4.30" height="4.30" fill="#B8860B"/>
<rect x="425.95" y="482.65" width="4.30" height="4.30" fill="#B8860B"/>
<rect x="435.27" y="483.15" width="4.30" height="4.30" fill="#B8860B"/>
<rect x="444.60" y="483.55" width="4.30" height="4.30" fill="#B8860B"/>
<rect x="453.92" y="483.85" width="4.30" height="4.30" fill="#B8860B"/>
<rect x="463.24" y="484.15" width="4.30" height="4.30" fill="#B8860B"/>
<rect x="472.57" y="484.35" width="4.30" height="4.30" fill="#B8860B"/>
<rect x="481.89" y="484.65" width="4.30" height="4.30" fill="#B8860B"/>
<rect x="491.21" y="484.85" width="4.30" height="4.30" fill="#B8860B"/>
<rect x="500.53" y="484.95" width="4.30" height="4.30" fill="#B8860B"/>
<rect x="509.86" y="485.05" width="4.30" height="4.30" fill="#B8860B"/>
<rect x="519.18" y="485.15" width="4.30" height="4.30" fill="#B8860B"/>
<rect x="528.50" y="485.25" width="4.30" height="4.30" fill="#B8860B"/>
<rect x="539.41" y="485.55" width="4.30" height="4.30" fill="#B8860B"/>
<rect x="547.90" y="485.70" width="4.30" height="4.30" fill="#B8860B"/>
<rect x="553.21" y="485.70" width="4.30" height="4.30" fill="#B8860B"/>
<rect x="564.86" y="485.70" width="4.30" height="4.30" fill="#B8860B"/>
<rect x="582.02" y="485.65" width="4.30" height="4.30" fill="#B8860B"/>
<rect x="593.77" y="485.95" width="4.30" height="4.30" fill="#B8860B"/>
<rect x="618.47" y="486.35" width="4.30" height="4.30" fill="#B8860B"/>
<rect x="634.23" y="486.35" width="4.30" height="4.30" fill="#B8860B"/>
<path d="M64.50 316.30L73.82 320.10L83.15 323.40L92.47 327.60L101.79 331.80L111.12 336.10L120.44 340.30L129.76 345.20L139.08 350.20L148.41 355.20L157.73 360.30L167.05 365.70L176.38 369.00L241.17 379.60L250.96 384.80L260.28 391.50L269.61 406.00L278.93 410.40" fill="none" stroke="#00FFFF" stroke-width="1.3" stroke-opacity="1.0" stroke-linejoin="round"/>
<path d="M64.50 313.90L66.90 316.30L64.50 318.70L62.10 316.30Z" fill="#00FFFF"/>
<path d="M73.82 317.70L76.22 320.10L73.82 322.50L71.42 320.10Z" fill="#00FFFF"/>
<path d="M83.15 321.00L85.55 323.40L83.15 325.80L80.75 323.40Z" fill="#00FFFF"/>
<path d="M92.47 325.20L94.87 327.60L92.47 330.00L90.07 327.60Z" fill="#00FFFF"/>
<path d="M101.79 329.40L104.19 331.80L101.79 334.20L99.39 331.80Z" fill="#00FFFF"/>
<path d="M111.12 333.70L113.52 336.10L111.12 338.50L108.72 336.10Z" fill="#00FFFF"/>
<path d="M120.44 337.90L122.84 340.30L120.44 342.70L118.04 340.30Z" fill="#00FFFF"/>
<path d="M129.76 342.80L132.16 345.20L129.76 347.60L127.36 345.20Z" fill="#00FFFF"/>
<path d="M139.08 347.80L141.48 350.20L139.08 352.60L136.68 350.20Z" fill="#00FFFF"/>
<path d="M148.41 352.80L150.81 355.20L148.41 357.60L146.01 355.20Z" fill="#00FFFF"/>
<path d="M157.73 357.90L160.13 360.30L157.73 362.70L155.33 360.30Z" fill="#00FFFF"/>
<path d="M167.05 363.30L169.45 365.70L167.05 368.10L164.65 365.70Z" fill="#00FFFF"/>
<path d="M176.38 366.60L178.78 369.00L176.38 371.40L173.98 369.00Z" fill="#00FFFF"/>
<path d="M241.17 377.20L243.57 379.60L241.17 382.00L238.77 379.60Z" fill="#00FFFF"/>
<path d="M250.96 382.40L253.36 384.80L250.96 387.20L248.56 384.80Z" fill="#00FFFF"/>
<path d="M260.28 389.00V394.00M258.08 389.00H262.48M258.08 394.00H262.48" stroke="#00FFFF" stroke-width="0.8" fill="none" stroke-opacity="0.6"/>
<path d="M260.28 389.10L262.68 391.50L260.28 393.90L257.88 391.50Z" fill="#00FFFF"/>
<path d="M269.61 403.60L272.01 406.00L269.61 408.40L267.21 406.00Z" fill="#00FFFF"/>
<path d="M278.93 406.90V413.90M276.73 406.90H281.13M276.73 413.90H281.13" stroke="#00FFFF" stroke-width="0.8" fill="none" stroke-opacity="0.6"/>
<path d="M278.93 408.00L281.33 410.40L278.93 412.80L276.53 410.40Z" fill="#00FFFF"/>
<path d="M219.40 416.00L220.20 423.00L221.60 430.00L223.60 437.00L232.32 450.40L241.64 456.30L250.96 460.70L260.28 463.50L269.61 466.20L278.93 468.60L288.25 470.70L297.58 472.30L306.90 473.50L316.22 474.90L325.55 476.30L334.87 477.10L344.19 478.10L353.52 478.77L362.84 479.24L372.16 479.91L381.48 480.88L390.81 481.15L400.13 481.52L409.45 481.89L418.78 482.36L428.10 482.83L437.42 483.20L446.75 483.67L456.07 484.14L465.39 484.51L474.72 485.08L484.04 485.45L493.36 485.72L502.68 485.79L512.01 486.06L521.33 486.33L530.65 486.30" fill="none" stroke="#00FFFF" stroke-width="1.3" stroke-opacity="1.0" stroke-linejoin="round"/>
<path d="M219.40 414.10L221.30 417.33H217.50Z" fill="#00FFFF"/>
<path d="M220.20 421.10L222.10 424.33H218.30Z" fill="#00FFFF"/>
<path d="M221.60 428.10L223.50 431.33H219.70Z" fill="#00FFFF"/>
<path d="M223.60 435.10L225.50 438.33H221.70Z" fill="#00FFFF"/>
<path d="M232.32 448.50L234.22 451.73H230.42Z" fill="#00FFFF"/>
<path d="M241.64 454.40L243.54 457.63H239.74Z" fill="#00FFFF"/>
<path d="M250.96 458.80L252.86 462.03H249.06Z" fill="#00FFFF"/>
<path d="M260.28 461.60L262.18 464.83H258.38Z" fill="#00FFFF"/>
<path d="M269.61 464.30L271.51 467.53H267.71Z" fill="#00FFFF"/>
<path d="M278.93 466.70L280.83 469.93H277.03Z" fill="#00FFFF"/>
<path d="M288.25 468.80L290.15 472.03H286.35Z" fill="#00FFFF"/>
<path d="M297.58 470.40L299.48 473.63H295.68Z" fill="#00FFFF"/>
<path d="M306.90 471.60L308.80 474.83H305.00Z" fill="#00FFFF"/>
<path d="M316.22 473.00L318.12 476.23H314.32Z" fill="#00FFFF"/>
<path d="M325.55 474.40L327.45 477.63H323.65Z" fill="#00FFFF"/>
<path d="M334.87 475.20L336.77 478.43H332.97Z" fill="#00FFFF"/>
<path d="M344.19 476.20L346.09 479.43H342.29Z" fill="#00FFFF"/>
<path d="M353.52 476.87L355.42 480.10H351.62Z" fill="#00FFFF"/>
<path d="M362.84 477.34L364.74 480.57H360.94Z" fill="#00FFFF"/>
<path d="M372.16 478.01L374.06 481.24H370.26Z" fill="#00FFFF"/>
<path d="M381.48 478.98L383.38 482.21H379.58Z" fill="#00FFFF"/>
<path d="M390.81 479.25L392.71 482.48H388.91Z" fill="#00FFFF"/>
<path d="M400.13 479.62L402.03 482.85H398.23Z" fill="#00FFFF"/>
<path d="M409.45 479.99L411.35 483.22H407.55Z" fill="#00FFFF"/>
<path d="M418.78 480.46L420.68 483.69H416.88Z" fill="#00FFFF"/>
<path d="M428.10 480.93L430.00 484.16H426.20Z" fill="#00FFFF"/>
<path d="M437.42 481.30L439.32 484.53H435.52Z" fill="#00FFFF"/>
<path d="M446.75 481.77L448.65 485.00H444.85Z" fill="#00FFFF"/>
<path d="M456.07 482.24L457.97 485.47H454.17Z" fill="#00FFFF"/>
<path d="M465.39 482.61L467.29 485.84H463.49Z" fill="#00FFFF"/>
<path d="M474.72 483.18L476.62 486.41H472.82Z" fill="#00FFFF"/>
<path d="M484.04 483.55L485.94 486.78H482.14Z" fill="#00FFFF"/>
<path d="M493.36 483.82L495.26 487.05H491.46Z" fill="#00FFFF"/>
<path d="M502.68 483.89L504.58 487.12H500.78Z" fill="#00FFFF"/>
<path d="M512.01 484.16L513.91 487.39H510.11Z" fill="#00FFFF"/>
<path d="M521.33 484.43L523.23 487.66H519.43Z" fill="#00FFFF"/>
<path d="M530.65 484.40L532.55 487.63H528.75Z" fill="#00FFFF"/>
<path d="M64.50 316.90L73.82 320.70L83.15 324.00L92.47 328.20L101.79 332.40L111.12 336.70L120.44 340.90L129.76 345.80L139.08 350.80L148.41 355.80L157.73 360.90L167.05 366.30L176.38 371.40L181.97 374.10L259.30 399.60L262.20 401.80L264.80 403.80L266.90 405.30" fill="none" stroke="#0019A8" stroke-width="0.8" stroke-opacity="0.75" stroke-linejoin="round"/>
<circle cx="64.50" cy="316.90" r="2.15" fill="#0019A8"/>
<circle cx="73.82" cy="320.70" r="2.15" fill="#0019A8"/>
<circle cx="83.15" cy="324.00" r="2.15" fill="#0019A8"/>
<circle cx="92.47" cy="328.20" r="2.15" fill="#0019A8"/>
<circle cx="101.79" cy="332.40" r="2.15" fill="#0019A8"/>
<circle cx="111.12" cy="336.70" r="2.15" fill="#0019A8"/>
<circle cx="120.44" cy="340.90" r="2.15" fill="#0019A8"/>
<circle cx="129.76" cy="345.80" r="2.15" fill="#0019A8"/>
<circle cx="139.08" cy="350.80" r="2.15" fill="#0019A8"/>
<circle cx="148.41" cy="355.80" r="2.15" fill="#0019A8"/>
<circle cx="157.73" cy="360.90" r="2.15" fill="#0019A8"/>
<circle cx="167.05" cy="366.30" r="2.15" fill="#0019A8"/>
<circle cx="176.38" cy="371.40" r="2.15" fill="#0019A8"/>
<circle cx="181.97" cy="374.10" r="2.15" fill="#0019A8"/>
<circle cx="259.30" cy="399.60" r="2.15" fill="#0019A8"/>
<circle cx="262.20" cy="401.80" r="2.15" fill="#0019A8"/>
<circle cx="264.80" cy="403.80" r="2.15" fill="#0019A8"/>
<circle cx="266.90" cy="405.30" r="2.15" fill="#0019A8"/>
<path d="M218.40 415.00L218.85 420.40L219.75 426.40L221.15 432.40L223.00 437.40L232.32 449.90L241.64 455.80L250.96 460.20L260.28 463.00L269.61 465.70L278.93 468.10L288.25 470.20L297.58 471.80L306.90 473.00L316.22 474.40L325.55 475.80L334.87 476.60L344.19 477.60L353.52 478.27L362.84 478.74L372.16 479.41L381.48 480.38L390.81 480.65L400.13 481.02L409.45 481.39L418.78 481.86L428.10 482.33L437.42 482.70L446.75 483.17L456.07 483.64L465.39 484.01L474.72 484.58L484.04 484.95L493.36 485.22L502.68 485.29L512.01 485.56L521.33 485.83L530.65 485.80" fill="none" stroke="#0019A8" stroke-width="0.8" stroke-opacity="0.75" stroke-linejoin="round"/>
<circle cx="218.40" cy="415.00" r="2.15" fill="#0019A8"/>
<circle cx="218.85" cy="420.40" r="2.15" fill="#0019A8"/>
<circle cx="219.75" cy="426.40" r="2.15" fill="#0019A8"/>
<circle cx="221.15" cy="432.40" r="2.15" fill="#0019A8"/>
<circle cx="223.00" cy="437.40" r="2.15" fill="#0019A8"/>
<circle cx="232.32" cy="449.90" r="2.15" fill="#0019A8"/>
<circle cx="241.64" cy="455.80" r="2.15" fill="#0019A8"/>
<circle cx="250.96" cy="460.20" r="2.15" fill="#0019A8"/>
<circle cx="260.28" cy="463.00" r="2.15" fill="#0019A8"/>
<circle cx="269.61" cy="465.70" r="2.15" fill="#0019A8"/>
<circle cx="278.93" cy="468.10" r="2.15" fill="#0019A8"/>
<circle cx="288.25" cy="470.20" r="2.15" fill="#0019A8"/>
<circle cx="297.58" cy="471.80" r="2.15" fill="#0019A8"/>
<circle cx="306.90" cy="473.00" r="2.15" fill="#0019A8"/>
<circle cx="316.22" cy="474.40" r="2.15" fill="#0019A8"/>
<circle cx="325.55" cy="475.80" r="2.15" fill="#0019A8"/>
<circle cx="334.87" cy="476.60" r="2.15" fill="#0019A8"/>
<circle cx="344.19" cy="477.60" r="2.15" fill="#0019A8"/>
<circle cx="353.52" cy="478.27" r="2.15" fill="#0019A8"/>
<circle cx="362.84" cy="478.74" r="2.15" fill="#0019A8"/>
<circle cx="372.16" cy="479.41" r="2.15" fill="#0019A8"/>
<circle cx="381.48" cy="480.38" r="2.15" fill="#0019A8"/>
<circle cx="390.81" cy="480.65" r="2.15" fill="#0019A8"/>
<circle cx="400.13" cy="481.02" r="2.15" fill="#0019A8"/>
<circle cx="409.45" cy="481.39" r="2.15" fill="#0019A8"/>
<circle cx="418.78" cy="481.86" r="2.15" fill="#0019A8"/>
<circle cx="428.10" cy="482.33" r="2.15" fill="#0019A8"/>
<circle cx="437.42" cy="482.70" r="2.15" fill="#0019A8"/>
<circle cx="446.75" cy="483.17" r="2.15" fill="#0019A8"/>
<circle cx="456.07" cy="483.64" r="2.15" fill="#0019A8"/>
<circle cx="465.39" cy="484.01" r="2.15" fill="#0019A8"/>
<circle cx="474.72" cy="484.58" r="2.15" fill="#0019A8"/>
<circle cx="484.04" cy="484.95" r="2.15" fill="#0019A8"/>
<circle cx="493.36" cy="485.22" r="2.15" fill="#0019A8"/>
<circle cx="502.68" cy="485.29" r="2.15" fill="#0019A8"/>
<circle cx="512.01" cy="485.56" r="2.15" fill="#0019A8"/>
<circle cx="521.33" cy="485.83" r="2.15" fill="#0019A8"/>
<circle cx="530.65" cy="485.80" r="2.15" fill="#0019A8"/>
<path d="M64.50 318.30L73.82 322.50L83.15 325.40L92.47 330.00L101.79 334.50L111.12 339.20L120.44 344.40L129.76 348.70L139.08 354.30L148.41 359.80L157.73 364.40L167.05 370.80L176.38 377.00L185.70 383.10L190.36 386.90L195.02 391.10L199.68 395.80L204.35 402.10L209.01 410.00L211.34 416.90L213.67 422.50L218.33 433.50L222.99 440.50L232.32 449.50L241.64 454.60L250.96 458.70L260.28 461.50L269.61 464.20L278.93 466.60L288.25 468.70L297.58 470.30L306.90 471.50L316.22 472.90L325.55 474.30L334.87 475.10L344.19 476.10L353.52 476.80L362.84 477.30L372.16 478.00L381.48 479.00L390.81 479.30L400.13 479.70L409.45 480.10L418.78 480.60L428.10 481.10L437.42 481.50L446.75 482.00L456.07 482.50L465.39 482.90L474.72 483.50L484.04 483.90L493.36 484.20L502.68 484.30L512.01 484.60L521.33 484.90L530.65 484.90" fill="none" stroke="#00FF00" stroke-width="0.7" stroke-opacity="1.0" stroke-linejoin="round"/>
<circle cx="64.50" cy="318.30" r="1.55" fill="none" stroke="#00FF00" stroke-width="1.6"/>
<circle cx="73.82" cy="322.50" r="1.55" fill="none" stroke="#00FF00" stroke-width="1.6"/>
<circle cx="83.15" cy="325.40" r="1.55" fill="none" stroke="#00FF00" stroke-width="1.6"/>
<circle cx="92.47" cy="330.00" r="1.55" fill="none" stroke="#00FF00" stroke-width="1.6"/>
<circle cx="101.79" cy="334.50" r="1.55" fill="none" stroke="#00FF00" stroke-width="1.6"/>
<circle cx="111.12" cy="339.20" r="1.55" fill="none" stroke="#00FF00" stroke-width="1.6"/>
<circle cx="120.44" cy="344.40" r="1.55" fill="none" stroke="#00FF00" stroke-width="1.6"/>
<circle cx="129.76" cy="348.70" r="1.55" fill="none" stroke="#00FF00" stroke-width="1.6"/>
<circle cx="139.08" cy="354.30" r="1.55" fill="none" stroke="#00FF00" stroke-width="1.6"/>
<circle cx="148.41" cy="359.80" r="1.55" fill="none" stroke="#00FF00" stroke-width="1.6"/>
<circle cx="157.73" cy="364.40" r="1.55" fill="none" stroke="#00FF00" stroke-width="1.6"/>
<circle cx="167.05" cy="370.80" r="1.55" fill="none" stroke="#00FF00" stroke-width="1.6"/>
<circle cx="176.38" cy="377.00" r="1.55" fill="none" stroke="#00FF00" stroke-width="1.6"/>
<circle cx="185.70" cy="383.10" r="1.55" fill="none" stroke="#00FF00" stroke-width="1.6"/>
<circle cx="190.36" cy="386.90" r="1.55" fill="none" stroke="#00FF00" stroke-width="1.6"/>
<circle cx="195.02" cy="391.10" r="1.55" fill="none" stroke="#00FF00" stroke-width="1.6"/>
<circle cx="199.68" cy="395.80" r="1.55" fill="none" stroke="#00FF00" stroke-width="1.6"/>
<circle cx="204.35" cy="402.10" r="1.55" fill="none" stroke="#00FF00" stroke-width="1.6"/>
<circle cx="209.01" cy="410.00" r="1.55" fill="none" stroke="#00FF00" stroke-width="1.6"/>
<circle cx="211.34" cy="416.90" r="1.55" fill="none" stroke="#00FF00" stroke-width="1.6"/>
<circle cx="213.67" cy="422.50" r="1.55" fill="none" stroke="#00FF00" stroke-width="1.6"/>
<circle cx="218.33" cy="433.50" r="1.55" fill="none" stroke="#00FF00" stroke-width="1.6"/>
<circle cx="222.99" cy="440.50" r="1.55" fill="none" stroke="#00FF00" stroke-width="1.6"/>
<circle cx="232.32" cy="449.50" r="1.55" fill="none" stroke="#00FF00" stroke-width="1.6"/>
<circle cx="241.64" cy="454.60" r="1.55" fill="none" stroke="#00FF00" stroke-width="1.6"/>
<circle cx="250.96" cy="458.70" r="1.55" fill="none" stroke="#00FF00" stroke-width="1.6"/>
<circle cx="260.28" cy="461.50" r="1.55" fill="none" stroke="#00FF00" stroke-width="1.6"/>
<circle cx="269.61" cy="464.20" r="1.55" fill="none" stroke="#00FF00" stroke-width="1.6"/>
<circle cx="278.93" cy="466.60" r="1.55" fill="none" stroke="#00FF00" stroke-width="1.6"/>
<circle cx="288.25" cy="468.70" r="1.55" fill="none" stroke="#00FF00" stroke-width="1.6"/>
<circle cx="297.58" cy="470.30" r="1.55" fill="none" stroke="#00FF00" stroke-width="1.6"/>
<circle cx="306.90" cy="471.50" r="1.55" fill="none" stroke="#00FF00" stroke-width="1.6"/>
<circle cx="316.22" cy="472.90" r="1.55" fill="none" stroke="#00FF00" stroke-width="1.6"/>
<circle cx="325.55" cy="474.30" r="1.55" fill="none" stroke="#00FF00" stroke-width="1.6"/>
<circle cx="334.87" cy="475.10" r="1.55" fill="none" stroke="#00FF00" stroke-width="1.6"/>
<circle cx="344.19" cy="476.10" r="1.55" fill="none" stroke="#00FF00" stroke-width="1.6"/>
<circle cx="353.52" cy="476.80" r="1.55" fill="none" stroke="#00FF00" stroke-width="1.6"/>
<circle cx="362.84" cy="477.30" r="1.55" fill="none" stroke="#00FF00" stroke-width="1.6"/>
<circle cx="372.16" cy="478.00" r="1.55" fill="none" stroke="#00FF00" stroke-width="1.6"/>
<circle cx="381.48" cy="479.00" r="1.55" fill="none" stroke="#00FF00" stroke-width="1.6"/>
<circle cx="390.81" cy="479.30" r="1.55" fill="none" stroke="#00FF00" stroke-width="1.6"/>
<circle cx="400.13" cy="479.70" r="1.55" fill="none" stroke="#00FF00" stroke-width="1.6"/>
<circle cx="409.45" cy="480.10" r="1.55" fill="none" stroke="#00FF00" stroke-width="1.6"/>
<circle cx="418.78" cy="480.60" r="1.55" fill="none" stroke="#00FF00" stroke-width="1.6"/>
<circle cx="428.10" cy="481.10" r="1.55" fill="none" stroke="#00FF00" stroke-width="1.6"/>
<circle cx="437.42" cy="481.50" r="1.55" fill="none" stroke="#00FF00" stroke-width="1.6"/>
<circle cx="446.75" cy="482.00" r="1.55" fill="none" stroke="#00FF00" stroke-width="1.6"/>
<circle cx="456.07" cy="482.50" r="1.55" fill="none" stroke="#00FF00" stroke-width="1.6"/>
<circle cx="465.39" cy="482.90" r="1.55" fill="none" stroke="#00FF00" stroke-width="1.6"/>
<circle cx="474.72" cy="483.50" r="1.55" fill="none" stroke="#00FF00" stroke-width="1.6"/>
<circle cx="484.04" cy="483.90" r="1.55" fill="none" stroke="#00FF00" stroke-width="1.6"/>
<circle cx="493.36" cy="484.20" r="1.55" fill="none" stroke="#00FF00" stroke-width="1.6"/>
<circle cx="502.68" cy="484.30" r="1.55" fill="none" stroke="#00FF00" stroke-width="1.6"/>
<circle cx="512.01" cy="484.60" r="1.55" fill="none" stroke="#00FF00" stroke-width="1.6"/>
<circle cx="521.33" cy="484.90" r="1.55" fill="none" stroke="#00FF00" stroke-width="1.6"/>
<circle cx="530.65" cy="484.90" r="1.55" fill="none" stroke="#00FF00" stroke-width="1.6"/>
</g>
<rect x="54.0" y="45.5" width="616.5" height="196.5" fill="none" stroke="#000" stroke-width="1"/>
<path d="M148.85 242.0V237.5M243.69 242.0V237.5M338.54 242.0V237.5M433.38 242.0V237.5M528.23 242.0V237.5M623.08 242.0V237.5M54.0 209.25H58.5M54.0 176.50H58.5M54.0 143.75H58.5M54.0 111.00H58.5M54.0 78.25H58.5" stroke="#000" stroke-width="0.9" stroke-opacity="0.85" fill="none"/>
<rect x="64.5" y="301.0" width="606.0" height="196.5" fill="none" stroke="#000" stroke-width="1"/>
<path d="M157.73 497.5V493.0M250.96 497.5V493.0M344.19 497.5V493.0M437.42 497.5V493.0M530.65 497.5V493.0M623.88 497.5V493.0M64.5 453.83H69.0M64.5 410.17H69.0M64.5 366.50H69.0M64.5 322.83H69.0" stroke="#000" stroke-width="0.9" stroke-opacity="0.85" fill="none"/>
<g font-family="Liberation Sans, sans-serif" font-size="13.33px" fill="#000">
<text x="49.4" y="246.20" text-anchor="end">0</text>
<text x="49.4" y="213.45" text-anchor="end">1</text>
<text x="49.4" y="180.70" text-anchor="end">2</text>
<text x="49.4" y="147.95" text-anchor="end">3</text>
<text x="49.4" y="115.20" text-anchor="end">4</text>
<text x="49.4" y="82.45" text-anchor="end">5</text>
<text x="49.4" y="49.70" text-anchor="end">6</text>
<text x="59.6" y="501.70" text-anchor="end">0</text>
<text x="59.6" y="458.03" text-anchor="end">0.2</text>
<text x="59.6" y="414.37" text-anchor="end">0.4</text>
<text x="59.6" y="370.70" text-anchor="end">0.6</text>
<text x="59.6" y="327.03" text-anchor="end">0.8</text>
<text x="56.00" y="255.3" text-anchor="middle">6</text>
<text x="66.20" y="510.9" text-anchor="middle">6</text>
<text x="150.85" y="255.3" text-anchor="middle">7</text>
<text x="159.43" y="510.9" text-anchor="middle">7</text>
<text x="245.69" y="255.3" text-anchor="middle">8</text>
<text x="252.66" y="510.9" text-anchor="middle">8</text>
<text x="340.54" y="255.3" text-anchor="middle">9</text>
<text x="345.89" y="510.9" text-anchor="middle">9</text>
<text x="435.38" y="255.3" text-anchor="middle">10</text>
<text x="439.12" y="510.9" text-anchor="middle">10</text>
<text x="530.23" y="255.3" text-anchor="middle">11</text>
<text x="532.35" y="510.9" text-anchor="middle">11</text>
<text x="625.08" y="255.3" text-anchor="middle">12</text>
<text x="625.58" y="510.9" text-anchor="middle">12</text>
<text x="338.6" y="82.3">LA</text>
<text x="385.4" y="203.3">SA</text>
<text x="344.3" y="327.3">LA</text>
<text x="389.8" y="473.2">SA</text>
<text x="666.8" y="59.8" text-anchor="end">(a)</text>
<text x="667" y="316.2" text-anchor="end">(b)</text>
</g>
<g font-family="Liberation Serif, serif" fill="#000">
<text x="362.6" y="271.6" text-anchor="middle" font-size="19px">τ</text>
<text x="367.6" y="526.7" text-anchor="middle" font-size="19px">τ</text>
<g transform="translate(33.2,189.9) rotate(-90)" font-size="13.33px">
<text x="0" y="0">Amplitude (V</text>
<text x="74.8" y="-6.4" font-size="10.67px">0</text>
<text x="74.8" y="3.6" font-size="10.67px">out</text>
<text x="88.3" y="0">)</text>
</g>
<g transform="translate(33.3,438) rotate(-90)" font-size="13.33px">
<text x="0" y="0" letter-spacing="0.2px">Phase lag(ϕ/π)</text>
</g>
<text x="66.9" y="59.70" font-size="13.33px" letter-spacing="-0.5px">γ=0.0929</text>
<path d="M120.3 55.40H153.9" stroke="#DC143C" stroke-width="1" stroke-opacity="1"/>
<path d="M137.1 53.00V57.80M135.9 55.40H138.29999999999998" stroke="#DC143C" stroke-width="1"/>
<text x="66.9" y="73.30" font-size="13.33px" letter-spacing="-0.5px">γ=0.1181</text>
<path d="M120.3 69.00H153.9" stroke="#B8860B" stroke-width="1" stroke-opacity="1"/>
<rect x="135.0" y="66.90" width="4.2" height="4.2" fill="#B8860B"/>
<text x="66.9" y="86.80" font-size="13.33px" letter-spacing="-0.5px">γ=0.1381</text>
<path d="M120.3 82.50H153.9" stroke="#00FFFF" stroke-width="1.5" stroke-opacity="1"/>
<path d="M137.1 80.70L138.9 83.70H135.29999999999998Z" fill="#00FFFF"/>
<text x="66.9" y="100.30" font-size="13.33px" letter-spacing="-0.5px">γ=0.1415</text>
<path d="M120.3 96.00H153.9" stroke="#0019A8" stroke-width="1" stroke-opacity="0.6"/>
<path d="M137.1 94.00L139.1 96.00L137.1 98.00L135.1 96.00Z" fill="#0019A8"/>
<text x="66.9" y="113.80" font-size="13.33px" letter-spacing="-0.5px">γ=0.1495</text>
<path d="M120.3 109.50H153.9" stroke="#00FF00" stroke-width="0.9" stroke-opacity="1"/>
<circle cx="137.1" cy="109.50" r="1.7" fill="none" stroke="#00FF00" stroke-width="1.2"/>
<text x="77.0" y="429.80" font-size="13.33px" letter-spacing="-0.5px">γ=0.0929</text>
<path d="M130.7 425.50H163.9" stroke="#DC143C" stroke-width="1" stroke-opacity="1"/>
<path d="M147.3 423.10V427.90M146.10000000000002 425.50H148.5" stroke="#DC143C" stroke-width="1"/>
<text x="77.0" y="443.70" font-size="13.33px" letter-spacing="-0.5px">γ=0.1181</text>
<path d="M130.7 439.40H163.9" stroke="#B8860B" stroke-width="1" stroke-opacity="1"/>
<rect x="145.20000000000002" y="437.30" width="4.2" height="4.2" fill="#B8860B"/>
<text x="77.0" y="457.30" font-size="13.33px" letter-spacing="-0.5px">γ=0.1381</text>
<path d="M130.7 453.00H163.9" stroke="#00FFFF" stroke-width="1.5" stroke-opacity="1"/>
<path d="M147.3 451.20L149.10000000000002 454.20H145.5Z" fill="#00FFFF"/>
<text x="77.0" y="470.80" font-size="13.33px" letter-spacing="-0.5px">γ=0.1415</text>
<path d="M130.7 466.50H163.9" stroke="#0019A8" stroke-width="1" stroke-opacity="0.6"/>
<path d="M147.3 464.50L149.3 466.50L147.3 468.50L145.3 466.50Z" fill="#0019A8"/>
<text x="77.0" y="484.30" font-size="13.33px" letter-spacing="-0.5px">γ=0.1495</text>
<path d="M130.7 480.00H163.9" stroke="#00FF00" stroke-width="0.9" stroke-opacity="1"/>
<circle cx="147.3" cy="480.00" r="1.7" fill="none" stroke="#00FF00" stroke-width="1.2"/>
</g>
</svg>
</body></html>
